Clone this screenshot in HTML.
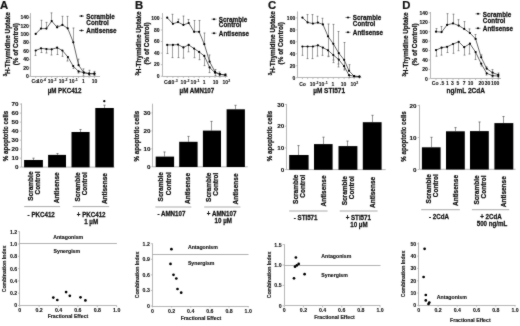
<!DOCTYPE html>
<html><head><meta charset="utf-8"><style>
html,body{margin:0;padding:0;background:#fff;}
svg{display:block;font-family:"Liberation Sans", sans-serif;will-change:transform;}
</style></head><body>
<svg width="520" height="326" viewBox="0 0 520 326">
<defs><filter id="bl" x="0" y="0" width="520" height="326" filterUnits="userSpaceOnUse" color-interpolation-filters="sRGB"><feConvolveMatrix order="3" kernelMatrix="0.0250 0.0562 0.0250 0.0562 0.6750 0.0562 0.0250 0.0562 0.0250" divisor="1" edgeMode="duplicate" preserveAlpha="false"/></filter></defs>
<rect width="520" height="326" fill="#fff"/>
<g filter="url(#bl)">
<line x1="30.5" y1="13" x2="30.5" y2="76.5" stroke="#a4a4a4" stroke-width="0.8"/>
<line x1="30.5" y1="76.5" x2="100" y2="76.5" stroke="#a4a4a4" stroke-width="0.8"/>
<line x1="28.9" y1="76.3" x2="30.4" y2="76.3" stroke="#a4a4a4" stroke-width="0.7"/>
<text transform="translate(28.90 78.10)" font-size="5.0" text-anchor="end" font-weight="bold" fill="#111" stroke="#111" stroke-width="0.12">0</text>
<line x1="28.9" y1="67.88" x2="30.4" y2="67.88" stroke="#a4a4a4" stroke-width="0.7"/>
<text transform="translate(28.90 69.68)" font-size="5.0" text-anchor="end" font-weight="bold" fill="#111" stroke="#111" stroke-width="0.12">20</text>
<line x1="28.9" y1="59.459999999999994" x2="30.4" y2="59.459999999999994" stroke="#a4a4a4" stroke-width="0.7"/>
<text transform="translate(28.90 61.26)" font-size="5.0" text-anchor="end" font-weight="bold" fill="#111" stroke="#111" stroke-width="0.12">40</text>
<line x1="28.9" y1="51.04" x2="30.4" y2="51.04" stroke="#a4a4a4" stroke-width="0.7"/>
<text transform="translate(28.90 52.84)" font-size="5.0" text-anchor="end" font-weight="bold" fill="#111" stroke="#111" stroke-width="0.12">60</text>
<line x1="28.9" y1="42.62" x2="30.4" y2="42.62" stroke="#a4a4a4" stroke-width="0.7"/>
<text transform="translate(28.90 44.42)" font-size="5.0" text-anchor="end" font-weight="bold" fill="#111" stroke="#111" stroke-width="0.12">80</text>
<line x1="28.9" y1="34.199999999999996" x2="30.4" y2="34.199999999999996" stroke="#a4a4a4" stroke-width="0.7"/>
<text transform="translate(28.90 36.00)" font-size="5.0" text-anchor="end" font-weight="bold" fill="#111" stroke="#111" stroke-width="0.12">100</text>
<line x1="28.9" y1="25.78" x2="30.4" y2="25.78" stroke="#a4a4a4" stroke-width="0.7"/>
<text transform="translate(28.90 27.58)" font-size="5.0" text-anchor="end" font-weight="bold" fill="#111" stroke="#111" stroke-width="0.12">120</text>
<line x1="28.9" y1="17.36" x2="30.4" y2="17.36" stroke="#a4a4a4" stroke-width="0.7"/>
<text transform="translate(28.90 19.16)" font-size="5.0" text-anchor="end" font-weight="bold" fill="#111" stroke="#111" stroke-width="0.12">140</text>
<line x1="35.7" y1="76.4" x2="35.7" y2="77.9" stroke="#a4a4a4" stroke-width="0.7"/>
<line x1="41" y1="76.4" x2="41" y2="77.9" stroke="#a4a4a4" stroke-width="0.7"/>
<line x1="46.4" y1="76.4" x2="46.4" y2="77.9" stroke="#a4a4a4" stroke-width="0.7"/>
<line x1="51.7" y1="76.4" x2="51.7" y2="77.9" stroke="#a4a4a4" stroke-width="0.7"/>
<line x1="57.1" y1="76.4" x2="57.1" y2="77.9" stroke="#a4a4a4" stroke-width="0.7"/>
<line x1="62.4" y1="76.4" x2="62.4" y2="77.9" stroke="#a4a4a4" stroke-width="0.7"/>
<line x1="67.7" y1="76.4" x2="67.7" y2="77.9" stroke="#a4a4a4" stroke-width="0.7"/>
<line x1="73.3" y1="76.4" x2="73.3" y2="77.9" stroke="#a4a4a4" stroke-width="0.7"/>
<line x1="78.6" y1="76.4" x2="78.6" y2="77.9" stroke="#a4a4a4" stroke-width="0.7"/>
<line x1="83.8" y1="76.4" x2="83.8" y2="77.9" stroke="#a4a4a4" stroke-width="0.7"/>
<line x1="89.1" y1="76.4" x2="89.1" y2="77.9" stroke="#a4a4a4" stroke-width="0.7"/>
<line x1="94.4" y1="76.4" x2="94.4" y2="77.9" stroke="#a4a4a4" stroke-width="0.7"/>
<line x1="41.5" y1="20.3" x2="41.5" y2="28.6" stroke="#8c8c8c" stroke-width="0.8"/>
<line x1="40.6" y1="20.3" x2="42.4" y2="20.3" stroke="#666" stroke-width="0.8"/>
<line x1="46.5" y1="22.4" x2="46.5" y2="28.6" stroke="#8c8c8c" stroke-width="0.8"/>
<line x1="45.6" y1="22.4" x2="47.4" y2="22.4" stroke="#666" stroke-width="0.8"/>
<line x1="51.5" y1="12.9" x2="51.5" y2="21.1" stroke="#8c8c8c" stroke-width="0.8"/>
<line x1="50.6" y1="12.9" x2="52.4" y2="12.9" stroke="#666" stroke-width="0.8"/>
<line x1="57.5" y1="25.5" x2="57.5" y2="27.3" stroke="#8c8c8c" stroke-width="0.8"/>
<line x1="56.6" y1="25.5" x2="58.4" y2="25.5" stroke="#666" stroke-width="0.8"/>
<line x1="62.5" y1="16.3" x2="62.5" y2="24.9" stroke="#8c8c8c" stroke-width="0.8"/>
<line x1="61.6" y1="16.3" x2="63.4" y2="16.3" stroke="#666" stroke-width="0.8"/>
<line x1="67.5" y1="16.4" x2="67.5" y2="28.3" stroke="#8c8c8c" stroke-width="0.8"/>
<line x1="66.6" y1="16.4" x2="68.4" y2="16.4" stroke="#666" stroke-width="0.8"/>
<line x1="73.5" y1="28" x2="73.5" y2="42.3" stroke="#8c8c8c" stroke-width="0.8"/>
<line x1="72.6" y1="28" x2="74.4" y2="28" stroke="#666" stroke-width="0.8"/>
<line x1="78.5" y1="59.2" x2="78.5" y2="65.2" stroke="#8c8c8c" stroke-width="0.8"/>
<line x1="77.6" y1="59.2" x2="79.4" y2="59.2" stroke="#666" stroke-width="0.8"/>
<line x1="83.5" y1="68.9" x2="83.5" y2="72.6" stroke="#8c8c8c" stroke-width="0.8"/>
<line x1="82.6" y1="68.9" x2="84.4" y2="68.9" stroke="#666" stroke-width="0.8"/>
<line x1="89.5" y1="70.3" x2="89.5" y2="73.7" stroke="#8c8c8c" stroke-width="0.8"/>
<line x1="88.6" y1="70.3" x2="90.4" y2="70.3" stroke="#666" stroke-width="0.8"/>
<line x1="94.5" y1="71.4" x2="94.5" y2="73.7" stroke="#8c8c8c" stroke-width="0.8"/>
<line x1="93.6" y1="71.4" x2="95.4" y2="71.4" stroke="#666" stroke-width="0.8"/>
<line x1="35.5" y1="50.5" x2="35.5" y2="55.4" stroke="#8c8c8c" stroke-width="0.8"/>
<line x1="34.6" y1="55.4" x2="36.4" y2="55.4" stroke="#666" stroke-width="0.8"/>
<line x1="41.5" y1="48.3" x2="41.5" y2="52.5" stroke="#8c8c8c" stroke-width="0.8"/>
<line x1="40.6" y1="52.5" x2="42.4" y2="52.5" stroke="#666" stroke-width="0.8"/>
<line x1="46.5" y1="49" x2="46.5" y2="53" stroke="#8c8c8c" stroke-width="0.8"/>
<line x1="45.6" y1="53" x2="47.4" y2="53" stroke="#666" stroke-width="0.8"/>
<line x1="51.5" y1="49.3" x2="51.5" y2="55" stroke="#8c8c8c" stroke-width="0.8"/>
<line x1="50.6" y1="55" x2="52.4" y2="55" stroke="#666" stroke-width="0.8"/>
<line x1="57.5" y1="47.7" x2="57.5" y2="54.5" stroke="#8c8c8c" stroke-width="0.8"/>
<line x1="56.6" y1="54.5" x2="58.4" y2="54.5" stroke="#666" stroke-width="0.8"/>
<line x1="62.5" y1="50.5" x2="62.5" y2="56.3" stroke="#8c8c8c" stroke-width="0.8"/>
<line x1="61.6" y1="56.3" x2="63.4" y2="56.3" stroke="#666" stroke-width="0.8"/>
<line x1="67.5" y1="57" x2="67.5" y2="61" stroke="#8c8c8c" stroke-width="0.8"/>
<line x1="66.6" y1="61" x2="68.4" y2="61" stroke="#666" stroke-width="0.8"/>
<line x1="73.5" y1="66.1" x2="73.5" y2="68.4" stroke="#8c8c8c" stroke-width="0.8"/>
<line x1="72.6" y1="68.4" x2="74.4" y2="68.4" stroke="#666" stroke-width="0.8"/>
<line x1="78.5" y1="71.4" x2="78.5" y2="73" stroke="#8c8c8c" stroke-width="0.8"/>
<line x1="77.6" y1="73" x2="79.4" y2="73" stroke="#666" stroke-width="0.8"/>
<line x1="83.5" y1="72.6" x2="83.5" y2="75.8" stroke="#8c8c8c" stroke-width="0.8"/>
<line x1="82.6" y1="75.8" x2="84.4" y2="75.8" stroke="#666" stroke-width="0.8"/>
<line x1="89.5" y1="73.7" x2="89.5" y2="75.5" stroke="#8c8c8c" stroke-width="0.8"/>
<line x1="88.6" y1="75.5" x2="90.4" y2="75.5" stroke="#666" stroke-width="0.8"/>
<line x1="94.5" y1="73.7" x2="94.5" y2="75.5" stroke="#8c8c8c" stroke-width="0.8"/>
<line x1="93.6" y1="75.5" x2="95.4" y2="75.5" stroke="#666" stroke-width="0.8"/>
<polyline points="35.7,33.9 41,28.6 46.4,28.6 51.7,21.1 57.1,27.3 62.4,24.9 67.7,28.3 73.3,42.3 78.6,65.2 83.8,72.6 89.1,73.7 94.4,73.7" fill="none" stroke="#222" stroke-width="0.7"/>
<circle cx="35.7" cy="33.9" r="1.1" fill="#000"/>
<circle cx="41" cy="28.6" r="1.1" fill="#000"/>
<circle cx="46.4" cy="28.6" r="1.1" fill="#000"/>
<circle cx="51.7" cy="21.1" r="1.1" fill="#000"/>
<circle cx="57.1" cy="27.3" r="1.1" fill="#000"/>
<circle cx="62.4" cy="24.9" r="1.1" fill="#000"/>
<circle cx="67.7" cy="28.3" r="1.1" fill="#000"/>
<circle cx="73.3" cy="42.3" r="1.1" fill="#000"/>
<circle cx="78.6" cy="65.2" r="1.1" fill="#000"/>
<circle cx="83.8" cy="72.6" r="1.1" fill="#000"/>
<circle cx="89.1" cy="73.7" r="1.1" fill="#000"/>
<circle cx="94.4" cy="73.7" r="1.1" fill="#000"/>
<polyline points="35.7,50.5 41,48.3 46.4,49 51.7,49.3 57.1,47.7 62.4,50.5 67.9,57 73.2,66.1 78.6,71.4 83.8,72.6 89.1,73.7 94.4,73.7" fill="none" stroke="#222" stroke-width="0.7"/>
<circle cx="35.7" cy="50.5" r="1.1" fill="#000"/>
<circle cx="41" cy="48.3" r="1.1" fill="#000"/>
<circle cx="46.4" cy="49" r="1.1" fill="#000"/>
<circle cx="51.7" cy="49.3" r="1.1" fill="#000"/>
<circle cx="57.1" cy="47.7" r="1.1" fill="#000"/>
<circle cx="62.4" cy="50.5" r="1.1" fill="#000"/>
<circle cx="67.9" cy="57" r="1.1" fill="#000"/>
<circle cx="73.2" cy="66.1" r="1.1" fill="#000"/>
<circle cx="78.6" cy="71.4" r="1.1" fill="#000"/>
<circle cx="83.8" cy="72.6" r="1.1" fill="#000"/>
<circle cx="89.1" cy="73.7" r="1.1" fill="#000"/>
<circle cx="94.4" cy="73.7" r="1.1" fill="#000"/>
<line x1="79.0" y1="16.1" x2="84.0" y2="16.1" stroke="#222" stroke-width="0.6"/>
<circle cx="81.5" cy="16.1" r="1.0" fill="#000"/>
<line x1="79.0" y1="30.5" x2="84.0" y2="30.5" stroke="#222" stroke-width="0.6"/>
<circle cx="81.5" cy="30.5" r="1.0" fill="#000"/>
<text transform="translate(86.30 18.80) scale(1 1.18)" font-size="6.35" text-anchor="start" font-weight="bold" fill="#111" stroke="#111" stroke-width="0.22">Scramble</text>
<text transform="translate(86.30 24.90) scale(1 1.18)" font-size="6.35" text-anchor="start" font-weight="bold" fill="#111" stroke="#111" stroke-width="0.22">Control</text>
<text transform="translate(86.30 33.20) scale(1 1.18)" font-size="6.35" text-anchor="start" font-weight="bold" fill="#111" stroke="#111" stroke-width="0.22">Antisense</text>
<text transform="translate(31.60 82.80)" font-size="5.0" text-anchor="start" font-weight="bold" fill="#111" stroke="#111" stroke-width="0.08">Co</text>
<text transform="translate(37.10 82.80)" font-size="5.0" text-anchor="start" font-weight="bold" fill="#111" stroke="#111" stroke-width="0.08">10<tspan font-size="3.5" dx="0.2" dy="-2.2">-4</tspan></text>
<text transform="translate(47.70 82.80)" font-size="5.0" text-anchor="start" font-weight="bold" fill="#111" stroke="#111" stroke-width="0.08">10<tspan font-size="3.5" dx="0.2" dy="-2.2">-3</tspan></text>
<text transform="translate(58.70 82.80)" font-size="5.0" text-anchor="start" font-weight="bold" fill="#111" stroke="#111" stroke-width="0.08">10<tspan font-size="3.5" dx="0.2" dy="-2.2">-2</tspan></text>
<text transform="translate(68.90 82.80)" font-size="5.0" text-anchor="start" font-weight="bold" fill="#111" stroke="#111" stroke-width="0.08">10<tspan font-size="3.5" dx="0.2" dy="-2.2">-1</tspan></text>
<text transform="translate(83.50 82.80)" font-size="5.0" text-anchor="middle" font-weight="bold" fill="#111" stroke="#111" stroke-width="0.08">1</text>
<text transform="translate(94.50 82.80)" font-size="5.0" text-anchor="middle" font-weight="bold" fill="#111" stroke="#111" stroke-width="0.08">10</text>
<text transform="translate(64.60 92.93) scale(1 1.18)" font-size="6.2" text-anchor="middle" font-weight="bold" fill="#111" stroke="#111" stroke-width="0.22">µM PKC412</text>
<text transform="translate(9.52 44.20) rotate(-90) scale(1 1.18)" font-size="6.4" text-anchor="middle" font-weight="bold" fill="#111" stroke="#111" stroke-width="0.22"><tspan font-size="4.2" dy="-2.2">3</tspan><tspan dy="2.2">H-Thymidine Uptake</tspan></text>
<text transform="translate(17.52 44.20) rotate(-90) scale(1 1.18)" font-size="6.4" text-anchor="middle" font-weight="bold" fill="#111" stroke="#111" stroke-width="0.22">(% of Control)</text>
<line x1="162.5" y1="13" x2="162.5" y2="76.5" stroke="#a4a4a4" stroke-width="0.8"/>
<line x1="162.5" y1="76.5" x2="227.5" y2="76.5" stroke="#a4a4a4" stroke-width="0.8"/>
<line x1="160.9" y1="76.2" x2="162.4" y2="76.2" stroke="#a4a4a4" stroke-width="0.7"/>
<text transform="translate(159.60 78.00)" font-size="5.0" text-anchor="end" font-weight="bold" fill="#111" stroke="#111" stroke-width="0.12">0</text>
<line x1="160.9" y1="64.64" x2="162.4" y2="64.64" stroke="#a4a4a4" stroke-width="0.7"/>
<text transform="translate(159.60 66.44)" font-size="5.0" text-anchor="end" font-weight="bold" fill="#111" stroke="#111" stroke-width="0.12">20</text>
<line x1="160.9" y1="53.080000000000005" x2="162.4" y2="53.080000000000005" stroke="#a4a4a4" stroke-width="0.7"/>
<text transform="translate(159.60 54.88)" font-size="5.0" text-anchor="end" font-weight="bold" fill="#111" stroke="#111" stroke-width="0.12">40</text>
<line x1="160.9" y1="41.52" x2="162.4" y2="41.52" stroke="#a4a4a4" stroke-width="0.7"/>
<text transform="translate(159.60 43.32)" font-size="5.0" text-anchor="end" font-weight="bold" fill="#111" stroke="#111" stroke-width="0.12">60</text>
<line x1="160.9" y1="29.960000000000008" x2="162.4" y2="29.960000000000008" stroke="#a4a4a4" stroke-width="0.7"/>
<text transform="translate(159.60 31.76)" font-size="5.0" text-anchor="end" font-weight="bold" fill="#111" stroke="#111" stroke-width="0.12">80</text>
<line x1="160.9" y1="18.400000000000006" x2="162.4" y2="18.400000000000006" stroke="#a4a4a4" stroke-width="0.7"/>
<text transform="translate(159.60 20.20)" font-size="5.0" text-anchor="end" font-weight="bold" fill="#111" stroke="#111" stroke-width="0.12">100</text>
<line x1="167.2" y1="76.4" x2="167.2" y2="77.9" stroke="#a4a4a4" stroke-width="0.7"/>
<line x1="172.9" y1="76.4" x2="172.9" y2="77.9" stroke="#a4a4a4" stroke-width="0.7"/>
<line x1="178.0" y1="76.4" x2="178.0" y2="77.9" stroke="#a4a4a4" stroke-width="0.7"/>
<line x1="183.4" y1="76.4" x2="183.4" y2="77.9" stroke="#a4a4a4" stroke-width="0.7"/>
<line x1="188.7" y1="76.4" x2="188.7" y2="77.9" stroke="#a4a4a4" stroke-width="0.7"/>
<line x1="194.1" y1="76.4" x2="194.1" y2="77.9" stroke="#a4a4a4" stroke-width="0.7"/>
<line x1="199.1" y1="76.4" x2="199.1" y2="77.9" stroke="#a4a4a4" stroke-width="0.7"/>
<line x1="204.3" y1="76.4" x2="204.3" y2="77.9" stroke="#a4a4a4" stroke-width="0.7"/>
<line x1="209.6" y1="76.4" x2="209.6" y2="77.9" stroke="#a4a4a4" stroke-width="0.7"/>
<line x1="215.0" y1="76.4" x2="215.0" y2="77.9" stroke="#a4a4a4" stroke-width="0.7"/>
<line x1="219.9" y1="76.4" x2="219.9" y2="77.9" stroke="#a4a4a4" stroke-width="0.7"/>
<line x1="225.4" y1="76.4" x2="225.4" y2="77.9" stroke="#a4a4a4" stroke-width="0.7"/>
<line x1="172.5" y1="14.3" x2="172.5" y2="23.8" stroke="#8c8c8c" stroke-width="0.8"/>
<line x1="171.6" y1="14.3" x2="173.4" y2="14.3" stroke="#666" stroke-width="0.8"/>
<line x1="178.5" y1="19.2" x2="178.5" y2="22.1" stroke="#8c8c8c" stroke-width="0.8"/>
<line x1="177.6" y1="19.2" x2="179.4" y2="19.2" stroke="#666" stroke-width="0.8"/>
<line x1="183.5" y1="16.1" x2="183.5" y2="24.9" stroke="#8c8c8c" stroke-width="0.8"/>
<line x1="182.6" y1="16.1" x2="184.4" y2="16.1" stroke="#666" stroke-width="0.8"/>
<line x1="188.5" y1="19.5" x2="188.5" y2="23.0" stroke="#8c8c8c" stroke-width="0.8"/>
<line x1="187.6" y1="19.5" x2="189.4" y2="19.5" stroke="#666" stroke-width="0.8"/>
<line x1="194.5" y1="20.5" x2="194.5" y2="31.8" stroke="#8c8c8c" stroke-width="0.8"/>
<line x1="193.6" y1="20.5" x2="195.4" y2="20.5" stroke="#666" stroke-width="0.8"/>
<line x1="199.5" y1="20.5" x2="199.5" y2="31.8" stroke="#8c8c8c" stroke-width="0.8"/>
<line x1="198.6" y1="20.5" x2="200.4" y2="20.5" stroke="#666" stroke-width="0.8"/>
<line x1="204.5" y1="33.0" x2="204.5" y2="44.2" stroke="#8c8c8c" stroke-width="0.8"/>
<line x1="203.6" y1="33.0" x2="205.4" y2="33.0" stroke="#666" stroke-width="0.8"/>
<line x1="209.5" y1="55" x2="209.5" y2="61.7" stroke="#8c8c8c" stroke-width="0.8"/>
<line x1="208.6" y1="55" x2="210.4" y2="55" stroke="#666" stroke-width="0.8"/>
<line x1="215.5" y1="69.5" x2="215.5" y2="71.8" stroke="#8c8c8c" stroke-width="0.8"/>
<line x1="214.6" y1="69.5" x2="216.4" y2="69.5" stroke="#666" stroke-width="0.8"/>
<line x1="219.5" y1="72" x2="219.5" y2="74.2" stroke="#8c8c8c" stroke-width="0.8"/>
<line x1="218.6" y1="72" x2="220.4" y2="72" stroke="#666" stroke-width="0.8"/>
<line x1="225.5" y1="73.5" x2="225.5" y2="75" stroke="#8c8c8c" stroke-width="0.8"/>
<line x1="224.6" y1="73.5" x2="226.4" y2="73.5" stroke="#666" stroke-width="0.8"/>
<line x1="167.5" y1="44.9" x2="167.5" y2="53.5" stroke="#8c8c8c" stroke-width="0.8"/>
<line x1="166.6" y1="53.5" x2="168.4" y2="53.5" stroke="#666" stroke-width="0.8"/>
<line x1="172.5" y1="44.9" x2="172.5" y2="57.6" stroke="#8c8c8c" stroke-width="0.8"/>
<line x1="171.6" y1="57.6" x2="173.4" y2="57.6" stroke="#666" stroke-width="0.8"/>
<line x1="178.5" y1="44.6" x2="178.5" y2="57.6" stroke="#8c8c8c" stroke-width="0.8"/>
<line x1="177.6" y1="57.6" x2="179.4" y2="57.6" stroke="#666" stroke-width="0.8"/>
<line x1="183.5" y1="47.4" x2="183.5" y2="58.1" stroke="#8c8c8c" stroke-width="0.8"/>
<line x1="182.6" y1="58.1" x2="184.4" y2="58.1" stroke="#666" stroke-width="0.8"/>
<line x1="188.5" y1="44.9" x2="188.5" y2="51.8" stroke="#8c8c8c" stroke-width="0.8"/>
<line x1="187.6" y1="51.8" x2="189.4" y2="51.8" stroke="#666" stroke-width="0.8"/>
<line x1="194.5" y1="48.6" x2="194.5" y2="57.7" stroke="#8c8c8c" stroke-width="0.8"/>
<line x1="193.6" y1="57.7" x2="195.4" y2="57.7" stroke="#666" stroke-width="0.8"/>
<line x1="199.5" y1="51.9" x2="199.5" y2="59.7" stroke="#8c8c8c" stroke-width="0.8"/>
<line x1="198.6" y1="59.7" x2="200.4" y2="59.7" stroke="#666" stroke-width="0.8"/>
<line x1="204.5" y1="55.9" x2="204.5" y2="65.6" stroke="#8c8c8c" stroke-width="0.8"/>
<line x1="203.6" y1="65.6" x2="205.4" y2="65.6" stroke="#666" stroke-width="0.8"/>
<line x1="209.5" y1="67.4" x2="209.5" y2="72.6" stroke="#8c8c8c" stroke-width="0.8"/>
<line x1="208.6" y1="72.6" x2="210.4" y2="72.6" stroke="#666" stroke-width="0.8"/>
<line x1="215.5" y1="72.7" x2="215.5" y2="75.5" stroke="#8c8c8c" stroke-width="0.8"/>
<line x1="214.6" y1="75.5" x2="216.4" y2="75.5" stroke="#666" stroke-width="0.8"/>
<line x1="219.5" y1="74.4" x2="219.5" y2="76" stroke="#8c8c8c" stroke-width="0.8"/>
<line x1="218.6" y1="76" x2="220.4" y2="76" stroke="#666" stroke-width="0.8"/>
<line x1="225.5" y1="75" x2="225.5" y2="76" stroke="#8c8c8c" stroke-width="0.8"/>
<line x1="224.6" y1="76" x2="226.4" y2="76" stroke="#666" stroke-width="0.8"/>
<polyline points="167.2,17.7 172.9,23.8 178.0,22.1 183.4,24.9 188.7,23.0 194.1,31.8 199.1,31.8 204.3,44.2 209.6,61.7 215.0,71.8 219.9,74.2 225.4,75" fill="none" stroke="#222" stroke-width="0.7"/>
<circle cx="167.2" cy="17.7" r="1.1" fill="#000"/>
<circle cx="172.9" cy="23.8" r="1.1" fill="#000"/>
<circle cx="178.0" cy="22.1" r="1.1" fill="#000"/>
<circle cx="183.4" cy="24.9" r="1.1" fill="#000"/>
<circle cx="188.7" cy="23.0" r="1.1" fill="#000"/>
<circle cx="194.1" cy="31.8" r="1.1" fill="#000"/>
<circle cx="199.1" cy="31.8" r="1.1" fill="#000"/>
<circle cx="204.3" cy="44.2" r="1.1" fill="#000"/>
<circle cx="209.6" cy="61.7" r="1.1" fill="#000"/>
<circle cx="215.0" cy="71.8" r="1.1" fill="#000"/>
<circle cx="219.9" cy="74.2" r="1.1" fill="#000"/>
<circle cx="225.4" cy="75" r="1.1" fill="#000"/>
<polyline points="167.2,44.9 172.9,44.9 178.0,44.6 183.4,47.4 188.7,44.9 194.1,48.6 199.1,51.9 204.3,55.9 209.6,67.4 215.0,72.7 219.9,74.4 225.4,75" fill="none" stroke="#222" stroke-width="0.7"/>
<circle cx="167.2" cy="44.9" r="1.1" fill="#000"/>
<circle cx="172.9" cy="44.9" r="1.1" fill="#000"/>
<circle cx="178.0" cy="44.6" r="1.1" fill="#000"/>
<circle cx="183.4" cy="47.4" r="1.1" fill="#000"/>
<circle cx="188.7" cy="44.9" r="1.1" fill="#000"/>
<circle cx="194.1" cy="48.6" r="1.1" fill="#000"/>
<circle cx="199.1" cy="51.9" r="1.1" fill="#000"/>
<circle cx="204.3" cy="55.9" r="1.1" fill="#000"/>
<circle cx="209.6" cy="67.4" r="1.1" fill="#000"/>
<circle cx="215.0" cy="72.7" r="1.1" fill="#000"/>
<circle cx="219.9" cy="74.4" r="1.1" fill="#000"/>
<circle cx="225.4" cy="75" r="1.1" fill="#000"/>
<line x1="211.5" y1="19.2" x2="216.5" y2="19.2" stroke="#222" stroke-width="0.6"/>
<circle cx="214.0" cy="19.2" r="1.0" fill="#000"/>
<line x1="211.5" y1="33.2" x2="216.5" y2="33.2" stroke="#222" stroke-width="0.6"/>
<circle cx="214.0" cy="33.2" r="1.0" fill="#000"/>
<text transform="translate(218.80 21.90) scale(1 1.18)" font-size="6.35" text-anchor="start" font-weight="bold" fill="#111" stroke="#111" stroke-width="0.22">Scramble</text>
<text transform="translate(218.80 27.30) scale(1 1.18)" font-size="6.35" text-anchor="start" font-weight="bold" fill="#111" stroke="#111" stroke-width="0.22">Control</text>
<text transform="translate(218.80 35.90) scale(1 1.18)" font-size="6.35" text-anchor="start" font-weight="bold" fill="#111" stroke="#111" stroke-width="0.22">Antisense</text>
<text transform="translate(164.00 84.20)" font-size="5.0" text-anchor="start" font-weight="bold" fill="#111" stroke="#111" stroke-width="0.08">Co</text>
<text transform="translate(168.80 84.20)" font-size="5.0" text-anchor="start" font-weight="bold" fill="#111" stroke="#111" stroke-width="0.08">10<tspan font-size="3.5" dx="0.2" dy="-2.2">-3</tspan></text>
<text transform="translate(180.60 84.20)" font-size="5.0" text-anchor="start" font-weight="bold" fill="#111" stroke="#111" stroke-width="0.08">10<tspan font-size="3.5" dx="0.2" dy="-2.2">-2</tspan></text>
<text transform="translate(190.60 84.20)" font-size="5.0" text-anchor="start" font-weight="bold" fill="#111" stroke="#111" stroke-width="0.08">10<tspan font-size="3.5" dx="0.2" dy="-2.2">-1</tspan></text>
<text transform="translate(204.20 84.20)" font-size="5.0" text-anchor="middle" font-weight="bold" fill="#111" stroke="#111" stroke-width="0.08">1</text>
<text transform="translate(215.50 84.20)" font-size="5.0" text-anchor="middle" font-weight="bold" fill="#111" stroke="#111" stroke-width="0.08">10</text>
<text transform="translate(222.50 84.20)" font-size="5.0" text-anchor="start" font-weight="bold" fill="#111" stroke="#111" stroke-width="0.08">10<tspan font-size="3.5" dx="0.2" dy="-2.2">2</tspan></text>
<text transform="translate(196.90 92.93) scale(1 1.18)" font-size="6.2" text-anchor="middle" font-weight="bold" fill="#111" stroke="#111" stroke-width="0.22">µM AMN107</text>
<text transform="translate(141.12 43.50) rotate(-90) scale(1 1.18)" font-size="6.4" text-anchor="middle" font-weight="bold" fill="#111" stroke="#111" stroke-width="0.22"><tspan font-size="4.2" dy="-2.2">3</tspan><tspan dy="2.2">H-Thymidine Uptake</tspan></text>
<text transform="translate(149.12 43.50) rotate(-90) scale(1 1.18)" font-size="6.4" text-anchor="middle" font-weight="bold" fill="#111" stroke="#111" stroke-width="0.22">(% of Control)</text>
<line x1="297.5" y1="11.4" x2="297.5" y2="77.5" stroke="#a4a4a4" stroke-width="0.8"/>
<line x1="297.5" y1="77.5" x2="361.4" y2="77.5" stroke="#a4a4a4" stroke-width="0.8"/>
<line x1="296.1" y1="77.7" x2="297.6" y2="77.7" stroke="#a4a4a4" stroke-width="0.7"/>
<text transform="translate(295.20 79.50)" font-size="5.0" text-anchor="end" font-weight="bold" fill="#111" stroke="#111" stroke-width="0.12">0</text>
<line x1="296.1" y1="65.74000000000001" x2="297.6" y2="65.74000000000001" stroke="#a4a4a4" stroke-width="0.7"/>
<text transform="translate(295.20 67.54)" font-size="5.0" text-anchor="end" font-weight="bold" fill="#111" stroke="#111" stroke-width="0.12">20</text>
<line x1="296.1" y1="53.78" x2="297.6" y2="53.78" stroke="#a4a4a4" stroke-width="0.7"/>
<text transform="translate(295.20 55.58)" font-size="5.0" text-anchor="end" font-weight="bold" fill="#111" stroke="#111" stroke-width="0.12">40</text>
<line x1="296.1" y1="41.82000000000001" x2="297.6" y2="41.82000000000001" stroke="#a4a4a4" stroke-width="0.7"/>
<text transform="translate(295.20 43.62)" font-size="5.0" text-anchor="end" font-weight="bold" fill="#111" stroke="#111" stroke-width="0.12">60</text>
<line x1="296.1" y1="29.860000000000007" x2="297.6" y2="29.860000000000007" stroke="#a4a4a4" stroke-width="0.7"/>
<text transform="translate(295.20 31.66)" font-size="5.0" text-anchor="end" font-weight="bold" fill="#111" stroke="#111" stroke-width="0.12">80</text>
<line x1="296.1" y1="17.900000000000006" x2="297.6" y2="17.900000000000006" stroke="#a4a4a4" stroke-width="0.7"/>
<text transform="translate(295.20 19.70)" font-size="5.0" text-anchor="end" font-weight="bold" fill="#111" stroke="#111" stroke-width="0.12">100</text>
<line x1="302.4" y1="77.6" x2="302.4" y2="79.1" stroke="#a4a4a4" stroke-width="0.7"/>
<line x1="307.6" y1="77.6" x2="307.6" y2="79.1" stroke="#a4a4a4" stroke-width="0.7"/>
<line x1="312.9" y1="77.6" x2="312.9" y2="79.1" stroke="#a4a4a4" stroke-width="0.7"/>
<line x1="317.9" y1="77.6" x2="317.9" y2="79.1" stroke="#a4a4a4" stroke-width="0.7"/>
<line x1="322.9" y1="77.6" x2="322.9" y2="79.1" stroke="#a4a4a4" stroke-width="0.7"/>
<line x1="328.0" y1="77.6" x2="328.0" y2="79.1" stroke="#a4a4a4" stroke-width="0.7"/>
<line x1="333.3" y1="77.6" x2="333.3" y2="79.1" stroke="#a4a4a4" stroke-width="0.7"/>
<line x1="338.8" y1="77.6" x2="338.8" y2="79.1" stroke="#a4a4a4" stroke-width="0.7"/>
<line x1="344.1" y1="77.6" x2="344.1" y2="79.1" stroke="#a4a4a4" stroke-width="0.7"/>
<line x1="349.0" y1="77.6" x2="349.0" y2="79.1" stroke="#a4a4a4" stroke-width="0.7"/>
<line x1="354.1" y1="77.6" x2="354.1" y2="79.1" stroke="#a4a4a4" stroke-width="0.7"/>
<line x1="359.4" y1="77.6" x2="359.4" y2="79.1" stroke="#a4a4a4" stroke-width="0.7"/>
<line x1="307.5" y1="14.6" x2="307.5" y2="22.4" stroke="#8c8c8c" stroke-width="0.8"/>
<line x1="306.6" y1="14.6" x2="308.4" y2="14.6" stroke="#666" stroke-width="0.8"/>
<line x1="312.5" y1="14.6" x2="312.5" y2="23.6" stroke="#8c8c8c" stroke-width="0.8"/>
<line x1="311.6" y1="14.6" x2="313.4" y2="14.6" stroke="#666" stroke-width="0.8"/>
<line x1="317.5" y1="16.3" x2="317.5" y2="22.6" stroke="#8c8c8c" stroke-width="0.8"/>
<line x1="316.6" y1="16.3" x2="318.4" y2="16.3" stroke="#666" stroke-width="0.8"/>
<line x1="322.5" y1="18.3" x2="322.5" y2="24.4" stroke="#8c8c8c" stroke-width="0.8"/>
<line x1="321.6" y1="18.3" x2="323.4" y2="18.3" stroke="#666" stroke-width="0.8"/>
<line x1="328.5" y1="24.0" x2="328.5" y2="36.3" stroke="#8c8c8c" stroke-width="0.8"/>
<line x1="327.6" y1="24.0" x2="329.4" y2="24.0" stroke="#666" stroke-width="0.8"/>
<line x1="328.5" y1="36.3" x2="328.5" y2="56.0" stroke="#8c8c8c" stroke-width="0.8"/>
<line x1="327.6" y1="56.0" x2="329.4" y2="56.0" stroke="#666" stroke-width="0.8"/>
<line x1="333.5" y1="24.4" x2="333.5" y2="43.8" stroke="#8c8c8c" stroke-width="0.8"/>
<line x1="332.6" y1="24.4" x2="334.4" y2="24.4" stroke="#666" stroke-width="0.8"/>
<line x1="333.5" y1="43.8" x2="333.5" y2="62.6" stroke="#8c8c8c" stroke-width="0.8"/>
<line x1="332.6" y1="62.6" x2="334.4" y2="62.6" stroke="#666" stroke-width="0.8"/>
<line x1="338.5" y1="31.5" x2="338.5" y2="53.2" stroke="#8c8c8c" stroke-width="0.8"/>
<line x1="337.6" y1="31.5" x2="339.4" y2="31.5" stroke="#666" stroke-width="0.8"/>
<line x1="338.5" y1="53.2" x2="338.5" y2="66.9" stroke="#8c8c8c" stroke-width="0.8"/>
<line x1="337.6" y1="66.9" x2="339.4" y2="66.9" stroke="#666" stroke-width="0.8"/>
<line x1="344.5" y1="42.5" x2="344.5" y2="59.8" stroke="#8c8c8c" stroke-width="0.8"/>
<line x1="343.6" y1="42.5" x2="345.4" y2="42.5" stroke="#666" stroke-width="0.8"/>
<line x1="344.5" y1="59.8" x2="344.5" y2="70.0" stroke="#8c8c8c" stroke-width="0.8"/>
<line x1="343.6" y1="70.0" x2="345.4" y2="70.0" stroke="#666" stroke-width="0.8"/>
<line x1="349.5" y1="64.7" x2="349.5" y2="70.8" stroke="#8c8c8c" stroke-width="0.8"/>
<line x1="348.6" y1="64.7" x2="350.4" y2="64.7" stroke="#666" stroke-width="0.8"/>
<line x1="302.5" y1="46.5" x2="302.5" y2="55.3" stroke="#8c8c8c" stroke-width="0.8"/>
<line x1="301.6" y1="55.3" x2="303.4" y2="55.3" stroke="#666" stroke-width="0.8"/>
<line x1="307.5" y1="46.5" x2="307.5" y2="58.6" stroke="#8c8c8c" stroke-width="0.8"/>
<line x1="306.6" y1="58.6" x2="308.4" y2="58.6" stroke="#666" stroke-width="0.8"/>
<line x1="312.5" y1="46.5" x2="312.5" y2="58.6" stroke="#8c8c8c" stroke-width="0.8"/>
<line x1="311.6" y1="58.6" x2="313.4" y2="58.6" stroke="#666" stroke-width="0.8"/>
<line x1="317.5" y1="45.3" x2="317.5" y2="56.1" stroke="#8c8c8c" stroke-width="0.8"/>
<line x1="316.6" y1="56.1" x2="318.4" y2="56.1" stroke="#666" stroke-width="0.8"/>
<line x1="322.5" y1="47.6" x2="322.5" y2="55.3" stroke="#8c8c8c" stroke-width="0.8"/>
<line x1="321.6" y1="55.3" x2="323.4" y2="55.3" stroke="#666" stroke-width="0.8"/>
<line x1="328.5" y1="50.3" x2="328.5" y2="56.6" stroke="#8c8c8c" stroke-width="0.8"/>
<line x1="327.6" y1="56.6" x2="329.4" y2="56.6" stroke="#666" stroke-width="0.8"/>
<line x1="333.5" y1="55" x2="333.5" y2="60" stroke="#8c8c8c" stroke-width="0.8"/>
<line x1="332.6" y1="60" x2="334.4" y2="60" stroke="#666" stroke-width="0.8"/>
<line x1="338.5" y1="59.6" x2="338.5" y2="64" stroke="#8c8c8c" stroke-width="0.8"/>
<line x1="337.6" y1="64" x2="339.4" y2="64" stroke="#666" stroke-width="0.8"/>
<line x1="344.5" y1="66.2" x2="344.5" y2="69" stroke="#8c8c8c" stroke-width="0.8"/>
<line x1="343.6" y1="69" x2="345.4" y2="69" stroke="#666" stroke-width="0.8"/>
<line x1="349.5" y1="75.2" x2="349.5" y2="77.3" stroke="#8c8c8c" stroke-width="0.8"/>
<line x1="348.6" y1="77.3" x2="350.4" y2="77.3" stroke="#666" stroke-width="0.8"/>
<polyline points="302.4,17.6 307.6,22.4 312.9,23.6 317.9,22.6 322.9,24.4 328.0,36.3 333.3,43.8 338.8,53.2 344.1,59.8 349.0,70.8 354.1,76.2 359.4,76.6" fill="none" stroke="#222" stroke-width="0.7"/>
<circle cx="302.4" cy="17.6" r="1.1" fill="#000"/>
<circle cx="307.6" cy="22.4" r="1.1" fill="#000"/>
<circle cx="312.9" cy="23.6" r="1.1" fill="#000"/>
<circle cx="317.9" cy="22.6" r="1.1" fill="#000"/>
<circle cx="322.9" cy="24.4" r="1.1" fill="#000"/>
<circle cx="328.0" cy="36.3" r="1.1" fill="#000"/>
<circle cx="333.3" cy="43.8" r="1.1" fill="#000"/>
<circle cx="338.8" cy="53.2" r="1.1" fill="#000"/>
<circle cx="344.1" cy="59.8" r="1.1" fill="#000"/>
<circle cx="349.0" cy="70.8" r="1.1" fill="#000"/>
<circle cx="354.1" cy="76.2" r="1.1" fill="#000"/>
<circle cx="359.4" cy="76.6" r="1.1" fill="#000"/>
<polyline points="302.4,46.5 307.6,46.5 312.9,46.5 317.9,45.3 322.9,47.6 328.0,50.3 333.3,55 338.8,59.6 344.1,66.2 349.0,75.2 354.1,76.2 359.4,76.6" fill="none" stroke="#222" stroke-width="0.7"/>
<circle cx="302.4" cy="46.5" r="1.1" fill="#000"/>
<circle cx="307.6" cy="46.5" r="1.1" fill="#000"/>
<circle cx="312.9" cy="46.5" r="1.1" fill="#000"/>
<circle cx="317.9" cy="45.3" r="1.1" fill="#000"/>
<circle cx="322.9" cy="47.6" r="1.1" fill="#000"/>
<circle cx="328.0" cy="50.3" r="1.1" fill="#000"/>
<circle cx="333.3" cy="55" r="1.1" fill="#000"/>
<circle cx="338.8" cy="59.6" r="1.1" fill="#000"/>
<circle cx="344.1" cy="66.2" r="1.1" fill="#000"/>
<circle cx="349.0" cy="75.2" r="1.1" fill="#000"/>
<circle cx="354.1" cy="76.2" r="1.1" fill="#000"/>
<circle cx="359.4" cy="76.6" r="1.1" fill="#000"/>
<line x1="345.5" y1="17.5" x2="350.5" y2="17.5" stroke="#222" stroke-width="0.6"/>
<circle cx="348.0" cy="17.5" r="1.0" fill="#000"/>
<line x1="345.5" y1="32.3" x2="350.5" y2="32.3" stroke="#222" stroke-width="0.6"/>
<circle cx="348.0" cy="32.3" r="1.0" fill="#000"/>
<text transform="translate(352.80 20.20) scale(1 1.18)" font-size="6.35" text-anchor="start" font-weight="bold" fill="#111" stroke="#111" stroke-width="0.22">Scramble</text>
<text transform="translate(352.80 26.10) scale(1 1.18)" font-size="6.35" text-anchor="start" font-weight="bold" fill="#111" stroke="#111" stroke-width="0.22">Control</text>
<text transform="translate(352.80 35.00) scale(1 1.18)" font-size="6.35" text-anchor="start" font-weight="bold" fill="#111" stroke="#111" stroke-width="0.22">Antisense</text>
<text transform="translate(302.50 85.70)" font-size="5.0" text-anchor="middle" font-weight="bold" fill="#111" stroke="#111" stroke-width="0.08">Co</text>
<text transform="translate(309.70 85.70)" font-size="5.0" text-anchor="start" font-weight="bold" fill="#111" stroke="#111" stroke-width="0.08">10<tspan font-size="3.5" dx="0.2" dy="-2.2">-2</tspan></text>
<text transform="translate(318.80 85.70)" font-size="5.0" text-anchor="start" font-weight="bold" fill="#111" stroke="#111" stroke-width="0.08">10<tspan font-size="3.5" dx="0.2" dy="-2.2">-1</tspan></text>
<text transform="translate(332.80 85.70)" font-size="5.0" text-anchor="middle" font-weight="bold" fill="#111" stroke="#111" stroke-width="0.08">1</text>
<text transform="translate(343.50 85.70)" font-size="5.0" text-anchor="middle" font-weight="bold" fill="#111" stroke="#111" stroke-width="0.08">10</text>
<text transform="translate(350.50 85.70)" font-size="5.0" text-anchor="start" font-weight="bold" fill="#111" stroke="#111" stroke-width="0.08">10<tspan font-size="3.5" dx="0.2" dy="-2.2">2</tspan></text>
<text transform="translate(329.10 93.46) scale(1 1.18)" font-size="6.5" text-anchor="middle" font-weight="bold" fill="#111" stroke="#111" stroke-width="0.22">µM STI571</text>
<text transform="translate(274.52 43.30) rotate(-90) scale(1 1.18)" font-size="6.4" text-anchor="middle" font-weight="bold" fill="#111" stroke="#111" stroke-width="0.22"><tspan font-size="4.2" dy="-2.2">3</tspan><tspan dy="2.2">H-Thymidine Uptake</tspan></text>
<text transform="translate(282.92 43.30) rotate(-90) scale(1 1.18)" font-size="6.4" text-anchor="middle" font-weight="bold" fill="#111" stroke="#111" stroke-width="0.22">(% of Control)</text>
<line x1="430.5" y1="12" x2="430.5" y2="78.5" stroke="#a4a4a4" stroke-width="0.8"/>
<line x1="430.5" y1="78.5" x2="501" y2="78.5" stroke="#a4a4a4" stroke-width="0.8"/>
<line x1="428.6" y1="78.8" x2="430.1" y2="78.8" stroke="#a4a4a4" stroke-width="0.7"/>
<text transform="translate(427.80 80.60)" font-size="5.0" text-anchor="end" font-weight="bold" fill="#111" stroke="#111" stroke-width="0.12">0</text>
<line x1="428.6" y1="69.386" x2="430.1" y2="69.386" stroke="#a4a4a4" stroke-width="0.7"/>
<text transform="translate(427.80 71.19)" font-size="5.0" text-anchor="end" font-weight="bold" fill="#111" stroke="#111" stroke-width="0.12">20</text>
<line x1="428.6" y1="59.971999999999994" x2="430.1" y2="59.971999999999994" stroke="#a4a4a4" stroke-width="0.7"/>
<text transform="translate(427.80 61.77)" font-size="5.0" text-anchor="end" font-weight="bold" fill="#111" stroke="#111" stroke-width="0.12">40</text>
<line x1="428.6" y1="50.55799999999999" x2="430.1" y2="50.55799999999999" stroke="#a4a4a4" stroke-width="0.7"/>
<text transform="translate(427.80 52.36)" font-size="5.0" text-anchor="end" font-weight="bold" fill="#111" stroke="#111" stroke-width="0.12">60</text>
<line x1="428.6" y1="41.144" x2="430.1" y2="41.144" stroke="#a4a4a4" stroke-width="0.7"/>
<text transform="translate(427.80 42.94)" font-size="5.0" text-anchor="end" font-weight="bold" fill="#111" stroke="#111" stroke-width="0.12">80</text>
<line x1="428.6" y1="31.729999999999997" x2="430.1" y2="31.729999999999997" stroke="#a4a4a4" stroke-width="0.7"/>
<text transform="translate(427.80 33.53)" font-size="5.0" text-anchor="end" font-weight="bold" fill="#111" stroke="#111" stroke-width="0.12">100</text>
<line x1="428.6" y1="22.315999999999995" x2="430.1" y2="22.315999999999995" stroke="#a4a4a4" stroke-width="0.7"/>
<text transform="translate(427.80 24.12)" font-size="5.0" text-anchor="end" font-weight="bold" fill="#111" stroke="#111" stroke-width="0.12">120</text>
<line x1="428.6" y1="12.902000000000001" x2="430.1" y2="12.902000000000001" stroke="#a4a4a4" stroke-width="0.7"/>
<text transform="translate(427.80 14.70)" font-size="5.0" text-anchor="end" font-weight="bold" fill="#111" stroke="#111" stroke-width="0.12">140</text>
<line x1="436" y1="78.6" x2="436" y2="80.1" stroke="#a4a4a4" stroke-width="0.7"/>
<line x1="441.6" y1="78.6" x2="441.6" y2="80.1" stroke="#a4a4a4" stroke-width="0.7"/>
<line x1="447.1" y1="78.6" x2="447.1" y2="80.1" stroke="#a4a4a4" stroke-width="0.7"/>
<line x1="453" y1="78.6" x2="453" y2="80.1" stroke="#a4a4a4" stroke-width="0.7"/>
<line x1="458.7" y1="78.6" x2="458.7" y2="80.1" stroke="#a4a4a4" stroke-width="0.7"/>
<line x1="464.2" y1="78.6" x2="464.2" y2="80.1" stroke="#a4a4a4" stroke-width="0.7"/>
<line x1="469.9" y1="78.6" x2="469.9" y2="80.1" stroke="#a4a4a4" stroke-width="0.7"/>
<line x1="475.6" y1="78.6" x2="475.6" y2="80.1" stroke="#a4a4a4" stroke-width="0.7"/>
<line x1="481.2" y1="78.6" x2="481.2" y2="80.1" stroke="#a4a4a4" stroke-width="0.7"/>
<line x1="486.7" y1="78.6" x2="486.7" y2="80.1" stroke="#a4a4a4" stroke-width="0.7"/>
<line x1="492.6" y1="78.6" x2="492.6" y2="80.1" stroke="#a4a4a4" stroke-width="0.7"/>
<line x1="498.3" y1="78.6" x2="498.3" y2="80.1" stroke="#a4a4a4" stroke-width="0.7"/>
<line x1="436.5" y1="28.6" x2="436.5" y2="31.7" stroke="#8c8c8c" stroke-width="0.8"/>
<line x1="435.6" y1="28.6" x2="437.4" y2="28.6" stroke="#666" stroke-width="0.8"/>
<line x1="441.5" y1="26.5" x2="441.5" y2="32.1" stroke="#8c8c8c" stroke-width="0.8"/>
<line x1="440.6" y1="26.5" x2="442.4" y2="26.5" stroke="#666" stroke-width="0.8"/>
<line x1="447.5" y1="13.7" x2="447.5" y2="24.9" stroke="#8c8c8c" stroke-width="0.8"/>
<line x1="446.6" y1="13.7" x2="448.4" y2="13.7" stroke="#666" stroke-width="0.8"/>
<line x1="453.5" y1="14.2" x2="453.5" y2="23.4" stroke="#8c8c8c" stroke-width="0.8"/>
<line x1="452.6" y1="14.2" x2="454.4" y2="14.2" stroke="#666" stroke-width="0.8"/>
<line x1="458.5" y1="19.7" x2="458.5" y2="25.6" stroke="#8c8c8c" stroke-width="0.8"/>
<line x1="457.6" y1="19.7" x2="459.4" y2="19.7" stroke="#666" stroke-width="0.8"/>
<line x1="464.5" y1="21.6" x2="464.5" y2="28.9" stroke="#8c8c8c" stroke-width="0.8"/>
<line x1="463.6" y1="21.6" x2="465.4" y2="21.6" stroke="#666" stroke-width="0.8"/>
<line x1="469.5" y1="28.9" x2="469.5" y2="33" stroke="#8c8c8c" stroke-width="0.8"/>
<line x1="468.6" y1="28.9" x2="470.4" y2="28.9" stroke="#666" stroke-width="0.8"/>
<line x1="475.5" y1="34.5" x2="475.5" y2="38.9" stroke="#8c8c8c" stroke-width="0.8"/>
<line x1="474.6" y1="34.5" x2="476.4" y2="34.5" stroke="#666" stroke-width="0.8"/>
<line x1="481.5" y1="54.9" x2="481.5" y2="57.3" stroke="#8c8c8c" stroke-width="0.8"/>
<line x1="480.6" y1="54.9" x2="482.4" y2="54.9" stroke="#666" stroke-width="0.8"/>
<line x1="486.5" y1="66.8" x2="486.5" y2="68.7" stroke="#8c8c8c" stroke-width="0.8"/>
<line x1="485.6" y1="66.8" x2="487.4" y2="66.8" stroke="#666" stroke-width="0.8"/>
<line x1="492.5" y1="69.6" x2="492.5" y2="72.7" stroke="#8c8c8c" stroke-width="0.8"/>
<line x1="491.6" y1="69.6" x2="493.4" y2="69.6" stroke="#666" stroke-width="0.8"/>
<line x1="498.5" y1="73" x2="498.5" y2="74.8" stroke="#8c8c8c" stroke-width="0.8"/>
<line x1="497.6" y1="73" x2="499.4" y2="73" stroke="#666" stroke-width="0.8"/>
<line x1="436.5" y1="50.1" x2="436.5" y2="56.2" stroke="#8c8c8c" stroke-width="0.8"/>
<line x1="435.6" y1="56.2" x2="437.4" y2="56.2" stroke="#666" stroke-width="0.8"/>
<line x1="441.5" y1="47.7" x2="441.5" y2="55.1" stroke="#8c8c8c" stroke-width="0.8"/>
<line x1="440.6" y1="55.1" x2="442.4" y2="55.1" stroke="#666" stroke-width="0.8"/>
<line x1="447.5" y1="46.8" x2="447.5" y2="52.5" stroke="#8c8c8c" stroke-width="0.8"/>
<line x1="446.6" y1="52.5" x2="448.4" y2="52.5" stroke="#666" stroke-width="0.8"/>
<line x1="453.5" y1="44" x2="453.5" y2="53.3" stroke="#8c8c8c" stroke-width="0.8"/>
<line x1="452.6" y1="53.3" x2="454.4" y2="53.3" stroke="#666" stroke-width="0.8"/>
<line x1="458.5" y1="41.8" x2="458.5" y2="50.7" stroke="#8c8c8c" stroke-width="0.8"/>
<line x1="457.6" y1="50.7" x2="459.4" y2="50.7" stroke="#666" stroke-width="0.8"/>
<line x1="464.5" y1="47.2" x2="464.5" y2="55.1" stroke="#8c8c8c" stroke-width="0.8"/>
<line x1="463.6" y1="55.1" x2="465.4" y2="55.1" stroke="#666" stroke-width="0.8"/>
<line x1="469.5" y1="43.7" x2="469.5" y2="54" stroke="#8c8c8c" stroke-width="0.8"/>
<line x1="468.6" y1="54" x2="470.4" y2="54" stroke="#666" stroke-width="0.8"/>
<line x1="475.5" y1="52.1" x2="475.5" y2="59.5" stroke="#8c8c8c" stroke-width="0.8"/>
<line x1="474.6" y1="59.5" x2="476.4" y2="59.5" stroke="#666" stroke-width="0.8"/>
<line x1="481.5" y1="63.7" x2="481.5" y2="66" stroke="#8c8c8c" stroke-width="0.8"/>
<line x1="480.6" y1="66" x2="482.4" y2="66" stroke="#666" stroke-width="0.8"/>
<line x1="486.5" y1="73.3" x2="486.5" y2="75" stroke="#8c8c8c" stroke-width="0.8"/>
<line x1="485.6" y1="75" x2="487.4" y2="75" stroke="#666" stroke-width="0.8"/>
<line x1="492.5" y1="75.7" x2="492.5" y2="77" stroke="#8c8c8c" stroke-width="0.8"/>
<line x1="491.6" y1="77" x2="493.4" y2="77" stroke="#666" stroke-width="0.8"/>
<line x1="498.5" y1="76" x2="498.5" y2="78" stroke="#8c8c8c" stroke-width="0.8"/>
<line x1="497.6" y1="78" x2="499.4" y2="78" stroke="#666" stroke-width="0.8"/>
<polyline points="436,31.7 441.6,32.1 447.1,24.9 453,23.4 458.7,25.6 464.2,28.9 469.9,33 475.6,38.9 481.2,57.3 486.7,68.7 492.6,72.7 498.3,74.8" fill="none" stroke="#222" stroke-width="0.7"/>
<circle cx="436" cy="31.7" r="1.1" fill="#000"/>
<circle cx="441.6" cy="32.1" r="1.1" fill="#000"/>
<circle cx="447.1" cy="24.9" r="1.1" fill="#000"/>
<circle cx="453" cy="23.4" r="1.1" fill="#000"/>
<circle cx="458.7" cy="25.6" r="1.1" fill="#000"/>
<circle cx="464.2" cy="28.9" r="1.1" fill="#000"/>
<circle cx="469.9" cy="33" r="1.1" fill="#000"/>
<circle cx="475.6" cy="38.9" r="1.1" fill="#000"/>
<circle cx="481.2" cy="57.3" r="1.1" fill="#000"/>
<circle cx="486.7" cy="68.7" r="1.1" fill="#000"/>
<circle cx="492.6" cy="72.7" r="1.1" fill="#000"/>
<circle cx="498.3" cy="74.8" r="1.1" fill="#000"/>
<polyline points="436,50.1 441.6,47.7 447.1,46.8 453,44 458.7,41.8 464.2,47.2 469.9,43.7 475.6,52.1 481.2,63.7 486.7,73.3 492.6,75.7 498.3,76" fill="none" stroke="#222" stroke-width="0.7"/>
<circle cx="436" cy="50.1" r="1.1" fill="#000"/>
<circle cx="441.6" cy="47.7" r="1.1" fill="#000"/>
<circle cx="447.1" cy="46.8" r="1.1" fill="#000"/>
<circle cx="453" cy="44" r="1.1" fill="#000"/>
<circle cx="458.7" cy="41.8" r="1.1" fill="#000"/>
<circle cx="464.2" cy="47.2" r="1.1" fill="#000"/>
<circle cx="469.9" cy="43.7" r="1.1" fill="#000"/>
<circle cx="475.6" cy="52.1" r="1.1" fill="#000"/>
<circle cx="481.2" cy="63.7" r="1.1" fill="#000"/>
<circle cx="486.7" cy="73.3" r="1.1" fill="#000"/>
<circle cx="492.6" cy="75.7" r="1.1" fill="#000"/>
<circle cx="498.3" cy="76" r="1.1" fill="#000"/>
<line x1="475.5" y1="13.8" x2="480.5" y2="13.8" stroke="#222" stroke-width="0.6"/>
<circle cx="478" cy="13.8" r="1.0" fill="#000"/>
<line x1="475.5" y1="28.3" x2="480.5" y2="28.3" stroke="#222" stroke-width="0.6"/>
<circle cx="478" cy="28.3" r="1.0" fill="#000"/>
<text transform="translate(482.80 16.50) scale(1 1.18)" font-size="6.35" text-anchor="start" font-weight="bold" fill="#111" stroke="#111" stroke-width="0.22">Scramble</text>
<text transform="translate(482.80 22.60) scale(1 1.18)" font-size="6.35" text-anchor="start" font-weight="bold" fill="#111" stroke="#111" stroke-width="0.22">Control</text>
<text transform="translate(482.80 31.00) scale(1 1.18)" font-size="6.35" text-anchor="start" font-weight="bold" fill="#111" stroke="#111" stroke-width="0.22">Antisense</text>
<text transform="translate(435.10 85.40)" font-size="5.0" text-anchor="middle" font-weight="bold" fill="#111" stroke="#111" stroke-width="0.08">Co</text>
<text transform="translate(442.20 85.40)" font-size="5.0" text-anchor="middle" font-weight="bold" fill="#111" stroke="#111" stroke-width="0.08">.5</text>
<text transform="translate(447.40 85.40)" font-size="5.0" text-anchor="middle" font-weight="bold" fill="#111" stroke="#111" stroke-width="0.08">1</text>
<text transform="translate(452.50 85.40)" font-size="5.0" text-anchor="middle" font-weight="bold" fill="#111" stroke="#111" stroke-width="0.08">3</text>
<text transform="translate(458.00 85.40)" font-size="5.0" text-anchor="middle" font-weight="bold" fill="#111" stroke="#111" stroke-width="0.08">5</text>
<text transform="translate(464.20 85.40)" font-size="5.0" text-anchor="middle" font-weight="bold" fill="#111" stroke="#111" stroke-width="0.08">7</text>
<text transform="translate(470.50 85.40)" font-size="5.0" text-anchor="middle" font-weight="bold" fill="#111" stroke="#111" stroke-width="0.08">10</text>
<text transform="translate(481.20 85.40)" font-size="5.0" text-anchor="middle" font-weight="bold" fill="#111" stroke="#111" stroke-width="0.08">20</text>
<text transform="translate(487.60 85.40)" font-size="5.0" text-anchor="middle" font-weight="bold" fill="#111" stroke="#111" stroke-width="0.08">30</text>
<text transform="translate(495.20 85.40)" font-size="5.0" text-anchor="middle" font-weight="bold" fill="#111" stroke="#111" stroke-width="0.08">100</text>
<text transform="translate(465.80 93.48) scale(1 1.18)" font-size="6.55" text-anchor="middle" font-weight="bold" fill="#111" stroke="#111" stroke-width="0.22">ng/mL 2CdA</text>
<text transform="translate(408.42 44.50) rotate(-90) scale(1 1.18)" font-size="6.4" text-anchor="middle" font-weight="bold" fill="#111" stroke="#111" stroke-width="0.22"><tspan font-size="4.2" dy="-2.2">3</tspan><tspan dy="2.2">H-Thymidine Uptake</tspan></text>
<text transform="translate(416.92 44.50) rotate(-90) scale(1 1.18)" font-size="6.4" text-anchor="middle" font-weight="bold" fill="#111" stroke="#111" stroke-width="0.22">(% of Control)</text>
<text transform="translate(0.10 8.80)" font-size="11.3" text-anchor="start" font-weight="bold" fill="#111" stroke="#111" stroke-width="0.22">A</text>
<text transform="translate(135.00 8.80)" font-size="11.3" text-anchor="start" font-weight="bold" fill="#111" stroke="#111" stroke-width="0.22">B</text>
<text transform="translate(268.10 8.80)" font-size="11.3" text-anchor="start" font-weight="bold" fill="#111" stroke="#111" stroke-width="0.22">C</text>
<text transform="translate(402.30 8.80)" font-size="11.3" text-anchor="start" font-weight="bold" fill="#111" stroke="#111" stroke-width="0.22">D</text>
<line x1="21.5" y1="103.4" x2="21.5" y2="167.1" stroke="#a4a4a4" stroke-width="0.8"/>
<line x1="21.5" y1="167.1" x2="114.5" y2="167.1" stroke="#a4a4a4" stroke-width="0.8"/>
<line x1="33.5" y1="158.2" x2="33.5" y2="160" stroke="#8c8c8c" stroke-width="0.9"/>
<line x1="32.5" y1="158.2" x2="34.5" y2="158.2" stroke="#666" stroke-width="0.9"/>
<rect x="24.1" y="160" width="18.80" height="7.30" fill="#000"/>
<line x1="57.5" y1="153.6" x2="57.5" y2="154.9" stroke="#8c8c8c" stroke-width="0.9"/>
<line x1="56.5" y1="153.6" x2="58.5" y2="153.6" stroke="#666" stroke-width="0.9"/>
<rect x="48.1" y="154.9" width="17.90" height="12.40" fill="#000"/>
<line x1="80.5" y1="129.5" x2="80.5" y2="132" stroke="#8c8c8c" stroke-width="0.9"/>
<line x1="79.5" y1="129.5" x2="81.5" y2="129.5" stroke="#666" stroke-width="0.9"/>
<rect x="71.5" y="132" width="18.10" height="35.30" fill="#000"/>
<line x1="104.5" y1="105.2" x2="104.5" y2="108" stroke="#8c8c8c" stroke-width="0.9"/>
<line x1="103.5" y1="105.2" x2="105.5" y2="105.2" stroke="#666" stroke-width="0.9"/>
<rect x="95.3" y="108" width="18.50" height="59.30" fill="#000"/>
<line x1="19.9" y1="167.1" x2="21.4" y2="167.1" stroke="#a4a4a4" stroke-width="0.7"/>
<text transform="translate(18.60 169.21) scale(1 0.93)" font-size="6.3" text-anchor="end" font-weight="bold" fill="#111" stroke="#111" stroke-width="0.12">0</text>
<line x1="19.9" y1="158.1" x2="21.4" y2="158.1" stroke="#a4a4a4" stroke-width="0.7"/>
<text transform="translate(18.60 160.21) scale(1 0.93)" font-size="6.3" text-anchor="end" font-weight="bold" fill="#111" stroke="#111" stroke-width="0.12">10</text>
<line x1="19.9" y1="149.1" x2="21.4" y2="149.1" stroke="#a4a4a4" stroke-width="0.7"/>
<text transform="translate(18.60 151.21) scale(1 0.93)" font-size="6.3" text-anchor="end" font-weight="bold" fill="#111" stroke="#111" stroke-width="0.12">20</text>
<line x1="19.9" y1="140.1" x2="21.4" y2="140.1" stroke="#a4a4a4" stroke-width="0.7"/>
<text transform="translate(18.60 142.21) scale(1 0.93)" font-size="6.3" text-anchor="end" font-weight="bold" fill="#111" stroke="#111" stroke-width="0.12">30</text>
<line x1="19.9" y1="131.1" x2="21.4" y2="131.1" stroke="#a4a4a4" stroke-width="0.7"/>
<text transform="translate(18.60 133.21) scale(1 0.93)" font-size="6.3" text-anchor="end" font-weight="bold" fill="#111" stroke="#111" stroke-width="0.12">40</text>
<line x1="19.9" y1="122.1" x2="21.4" y2="122.1" stroke="#a4a4a4" stroke-width="0.7"/>
<text transform="translate(18.60 124.21) scale(1 0.93)" font-size="6.3" text-anchor="end" font-weight="bold" fill="#111" stroke="#111" stroke-width="0.12">50</text>
<line x1="19.9" y1="113.1" x2="21.4" y2="113.1" stroke="#a4a4a4" stroke-width="0.7"/>
<text transform="translate(18.60 115.21) scale(1 0.93)" font-size="6.3" text-anchor="end" font-weight="bold" fill="#111" stroke="#111" stroke-width="0.12">60</text>
<line x1="19.9" y1="104.1" x2="21.4" y2="104.1" stroke="#a4a4a4" stroke-width="0.7"/>
<text transform="translate(18.60 106.21) scale(1 0.93)" font-size="6.3" text-anchor="end" font-weight="bold" fill="#111" stroke="#111" stroke-width="0.12">70</text>
<text transform="translate(7.93 136.00) rotate(-90) scale(1 1.18)" font-size="6.2" text-anchor="middle" font-weight="bold" fill="#111" stroke="#111" stroke-width="0.22">% apoptotic cells</text>
<text transform="translate(32.51 171.50) rotate(-90) scale(1 1.18)" font-size="6.5" text-anchor="end" font-weight="bold" fill="#111" stroke="#111" stroke-width="0.22">Scramble</text>
<text transform="translate(39.66 171.50) rotate(-90) scale(1 1.18)" font-size="6.5" text-anchor="end" font-weight="bold" fill="#111" stroke="#111" stroke-width="0.22">Control</text>
<text transform="translate(59.06 172.30) rotate(-90) scale(1 1.18)" font-size="6.5" text-anchor="end" font-weight="bold" fill="#111" stroke="#111" stroke-width="0.22">Antisense</text>
<text transform="translate(79.96 172.30) rotate(-90) scale(1 1.18)" font-size="6.5" text-anchor="end" font-weight="bold" fill="#111" stroke="#111" stroke-width="0.22">Scramble</text>
<text transform="translate(87.16 172.30) rotate(-90) scale(1 1.18)" font-size="6.5" text-anchor="end" font-weight="bold" fill="#111" stroke="#111" stroke-width="0.22">Control</text>
<text transform="translate(106.76 173.10) rotate(-90) scale(1 1.18)" font-size="6.5" text-anchor="end" font-weight="bold" fill="#111" stroke="#111" stroke-width="0.22">Antisense</text>
<line x1="24.2" y1="206.6" x2="60.1" y2="206.6" stroke="#aaaaaa" stroke-width="1.0"/>
<line x1="72.7" y1="206.6" x2="109.2" y2="206.6" stroke="#aaaaaa" stroke-width="1.0"/>
<text transform="translate(41.20 217.03) scale(1 1.18)" font-size="6.2" text-anchor="middle" font-weight="bold" fill="#111" stroke="#111" stroke-width="0.22">- PKC412</text>
<text transform="translate(91.20 217.23) scale(1 1.18)" font-size="6.2" text-anchor="middle" font-weight="bold" fill="#111" stroke="#111" stroke-width="0.22">+ PKC412</text>
<text transform="translate(91.10 224.03) scale(1 1.18)" font-size="6.2" text-anchor="middle" font-weight="bold" fill="#111" stroke="#111" stroke-width="0.22">1 µM</text>
<circle cx="104.3" cy="101.2" r="1.15" fill="#000"/>
<line x1="152.5" y1="103.7" x2="152.5" y2="166.8" stroke="#a4a4a4" stroke-width="0.8"/>
<line x1="152.5" y1="166.8" x2="247.8" y2="166.8" stroke="#a4a4a4" stroke-width="0.8"/>
<line x1="164.5" y1="152" x2="164.5" y2="156.6" stroke="#8c8c8c" stroke-width="0.9"/>
<line x1="163.5" y1="152" x2="165.5" y2="152" stroke="#666" stroke-width="0.9"/>
<rect x="155.7" y="156.6" width="18.40" height="10.40" fill="#000"/>
<line x1="188.5" y1="136.4" x2="188.5" y2="141.8" stroke="#8c8c8c" stroke-width="0.9"/>
<line x1="187.5" y1="136.4" x2="189.5" y2="136.4" stroke="#666" stroke-width="0.9"/>
<rect x="179.2" y="141.8" width="18.40" height="25.20" fill="#000"/>
<line x1="211.5" y1="121.4" x2="211.5" y2="130.6" stroke="#8c8c8c" stroke-width="0.9"/>
<line x1="210.5" y1="121.4" x2="212.5" y2="121.4" stroke="#666" stroke-width="0.9"/>
<rect x="202.9" y="130.6" width="18.10" height="36.40" fill="#000"/>
<line x1="235.5" y1="105.3" x2="235.5" y2="109.3" stroke="#8c8c8c" stroke-width="0.9"/>
<line x1="234.5" y1="105.3" x2="236.5" y2="105.3" stroke="#666" stroke-width="0.9"/>
<rect x="226.6" y="109.3" width="18.30" height="57.70" fill="#000"/>
<line x1="151.5" y1="166.7" x2="153" y2="166.7" stroke="#a4a4a4" stroke-width="0.7"/>
<text transform="translate(150.40 168.81) scale(1 0.93)" font-size="6.3" text-anchor="end" font-weight="bold" fill="#111" stroke="#111" stroke-width="0.12">0</text>
<line x1="151.5" y1="148.76999999999998" x2="153" y2="148.76999999999998" stroke="#a4a4a4" stroke-width="0.7"/>
<text transform="translate(150.40 150.88) scale(1 0.93)" font-size="6.3" text-anchor="end" font-weight="bold" fill="#111" stroke="#111" stroke-width="0.12">10</text>
<line x1="151.5" y1="130.83999999999997" x2="153" y2="130.83999999999997" stroke="#a4a4a4" stroke-width="0.7"/>
<text transform="translate(150.40 132.95) scale(1 0.93)" font-size="6.3" text-anchor="end" font-weight="bold" fill="#111" stroke="#111" stroke-width="0.12">20</text>
<line x1="151.5" y1="112.91" x2="153" y2="112.91" stroke="#a4a4a4" stroke-width="0.7"/>
<text transform="translate(150.40 115.02) scale(1 0.93)" font-size="6.3" text-anchor="end" font-weight="bold" fill="#111" stroke="#111" stroke-width="0.12">30</text>
<text transform="translate(139.03 136.20) rotate(-90) scale(1 1.18)" font-size="6.2" text-anchor="middle" font-weight="bold" fill="#111" stroke="#111" stroke-width="0.22">% apoptotic cells</text>
<text transform="translate(163.16 172.20) rotate(-90) scale(1 1.18)" font-size="6.5" text-anchor="end" font-weight="bold" fill="#111" stroke="#111" stroke-width="0.22">Scramble</text>
<text transform="translate(170.56 172.20) rotate(-90) scale(1 1.18)" font-size="6.5" text-anchor="end" font-weight="bold" fill="#111" stroke="#111" stroke-width="0.22">Control</text>
<text transform="translate(190.26 173.00) rotate(-90) scale(1 1.18)" font-size="6.5" text-anchor="end" font-weight="bold" fill="#111" stroke="#111" stroke-width="0.22">Antisense</text>
<text transform="translate(211.16 172.70) rotate(-90) scale(1 1.18)" font-size="6.5" text-anchor="end" font-weight="bold" fill="#111" stroke="#111" stroke-width="0.22">Scramble</text>
<text transform="translate(218.26 172.70) rotate(-90) scale(1 1.18)" font-size="6.5" text-anchor="end" font-weight="bold" fill="#111" stroke="#111" stroke-width="0.22">Control</text>
<text transform="translate(237.86 173.50) rotate(-90) scale(1 1.18)" font-size="6.5" text-anchor="end" font-weight="bold" fill="#111" stroke="#111" stroke-width="0.22">Antisense</text>
<line x1="155.4" y1="207.0" x2="191.3" y2="207.0" stroke="#aaaaaa" stroke-width="1.0"/>
<line x1="204.2" y1="207.0" x2="240.4" y2="207.0" stroke="#aaaaaa" stroke-width="1.0"/>
<text transform="translate(171.40 215.83) scale(1 1.18)" font-size="6.2" text-anchor="middle" font-weight="bold" fill="#111" stroke="#111" stroke-width="0.22">- AMN107</text>
<text transform="translate(221.60 215.83) scale(1 1.18)" font-size="6.2" text-anchor="middle" font-weight="bold" fill="#111" stroke="#111" stroke-width="0.22">+ AMN107</text>
<text transform="translate(223.20 223.03) scale(1 1.18)" font-size="6.2" text-anchor="middle" font-weight="bold" fill="#111" stroke="#111" stroke-width="0.22">10 µM</text>
<line x1="286.5" y1="103.9" x2="286.5" y2="169.6" stroke="#a4a4a4" stroke-width="0.8"/>
<line x1="286.5" y1="169.6" x2="385.7" y2="169.6" stroke="#a4a4a4" stroke-width="0.8"/>
<line x1="298.5" y1="145.6" x2="298.5" y2="155" stroke="#8c8c8c" stroke-width="0.9"/>
<line x1="297.5" y1="145.6" x2="299.5" y2="145.6" stroke="#666" stroke-width="0.9"/>
<rect x="289.2" y="155" width="19.40" height="14.80" fill="#000"/>
<line x1="323.5" y1="137.2" x2="323.5" y2="144.1" stroke="#8c8c8c" stroke-width="0.9"/>
<line x1="322.5" y1="137.2" x2="324.5" y2="137.2" stroke="#666" stroke-width="0.9"/>
<rect x="314" y="144.1" width="18.60" height="25.70" fill="#000"/>
<line x1="347.5" y1="141.1" x2="347.5" y2="146.1" stroke="#8c8c8c" stroke-width="0.9"/>
<line x1="346.5" y1="141.1" x2="348.5" y2="141.1" stroke="#666" stroke-width="0.9"/>
<rect x="338.5" y="146.1" width="18.90" height="23.70" fill="#000"/>
<line x1="372.5" y1="115.3" x2="372.5" y2="122.2" stroke="#8c8c8c" stroke-width="0.9"/>
<line x1="371.5" y1="115.3" x2="373.5" y2="115.3" stroke="#666" stroke-width="0.9"/>
<rect x="362.8" y="122.2" width="18.80" height="47.60" fill="#000"/>
<line x1="284.9" y1="169.6" x2="286.4" y2="169.6" stroke="#a4a4a4" stroke-width="0.7"/>
<text transform="translate(284.20 171.71) scale(1 0.93)" font-size="6.3" text-anchor="end" font-weight="bold" fill="#111" stroke="#111" stroke-width="0.12">0</text>
<line x1="284.9" y1="147.9" x2="286.4" y2="147.9" stroke="#a4a4a4" stroke-width="0.7"/>
<text transform="translate(284.20 150.01) scale(1 0.93)" font-size="6.3" text-anchor="end" font-weight="bold" fill="#111" stroke="#111" stroke-width="0.12">10</text>
<line x1="284.9" y1="126.19999999999999" x2="286.4" y2="126.19999999999999" stroke="#a4a4a4" stroke-width="0.7"/>
<text transform="translate(284.20 128.31) scale(1 0.93)" font-size="6.3" text-anchor="end" font-weight="bold" fill="#111" stroke="#111" stroke-width="0.12">20</text>
<line x1="284.9" y1="104.5" x2="286.4" y2="104.5" stroke="#a4a4a4" stroke-width="0.7"/>
<text transform="translate(284.20 106.61) scale(1 0.93)" font-size="6.3" text-anchor="end" font-weight="bold" fill="#111" stroke="#111" stroke-width="0.12">30</text>
<text transform="translate(272.33 136.00) rotate(-90) scale(1 1.18)" font-size="6.2" text-anchor="middle" font-weight="bold" fill="#111" stroke="#111" stroke-width="0.22">% apoptotic cells</text>
<text transform="translate(297.86 174.70) rotate(-90) scale(1 1.18)" font-size="6.5" text-anchor="end" font-weight="bold" fill="#111" stroke="#111" stroke-width="0.22">Scramble</text>
<text transform="translate(305.26 174.70) rotate(-90) scale(1 1.18)" font-size="6.5" text-anchor="end" font-weight="bold" fill="#111" stroke="#111" stroke-width="0.22">Control</text>
<text transform="translate(325.76 175.50) rotate(-90) scale(1 1.18)" font-size="6.5" text-anchor="end" font-weight="bold" fill="#111" stroke="#111" stroke-width="0.22">Antisense</text>
<text transform="translate(346.76 176.10) rotate(-90) scale(1 1.18)" font-size="6.5" text-anchor="end" font-weight="bold" fill="#111" stroke="#111" stroke-width="0.22">Scramble</text>
<text transform="translate(354.06 176.10) rotate(-90) scale(1 1.18)" font-size="6.5" text-anchor="end" font-weight="bold" fill="#111" stroke="#111" stroke-width="0.22">Control</text>
<text transform="translate(375.26 176.90) rotate(-90) scale(1 1.18)" font-size="6.5" text-anchor="end" font-weight="bold" fill="#111" stroke="#111" stroke-width="0.22">Antisense</text>
<line x1="289.2" y1="211.0" x2="327.6" y2="211.0" stroke="#aaaaaa" stroke-width="1.0"/>
<line x1="339.7" y1="211.0" x2="377.6" y2="211.0" stroke="#aaaaaa" stroke-width="1.0"/>
<text transform="translate(305.60 220.03) scale(1 1.18)" font-size="6.2" text-anchor="middle" font-weight="bold" fill="#111" stroke="#111" stroke-width="0.22">- STI571</text>
<text transform="translate(358.30 220.03) scale(1 1.18)" font-size="6.2" text-anchor="middle" font-weight="bold" fill="#111" stroke="#111" stroke-width="0.22">+ STI571</text>
<text transform="translate(358.90 226.93) scale(1 1.18)" font-size="6.2" text-anchor="middle" font-weight="bold" fill="#111" stroke="#111" stroke-width="0.22">10 µM</text>
<line x1="419.5" y1="104.8" x2="419.5" y2="169.3" stroke="#a4a4a4" stroke-width="0.8"/>
<line x1="419.5" y1="169.3" x2="515.6" y2="169.3" stroke="#a4a4a4" stroke-width="0.8"/>
<line x1="431.5" y1="137.3" x2="431.5" y2="147.3" stroke="#8c8c8c" stroke-width="0.9"/>
<line x1="430.5" y1="137.3" x2="432.5" y2="137.3" stroke="#666" stroke-width="0.9"/>
<rect x="421.9" y="147.3" width="18.70" height="22.20" fill="#000"/>
<line x1="455.5" y1="127.6" x2="455.5" y2="131.3" stroke="#8c8c8c" stroke-width="0.9"/>
<line x1="454.5" y1="127.6" x2="456.5" y2="127.6" stroke="#666" stroke-width="0.9"/>
<rect x="446" y="131.3" width="18.80" height="38.20" fill="#000"/>
<line x1="479.5" y1="122" x2="479.5" y2="131.1" stroke="#8c8c8c" stroke-width="0.9"/>
<line x1="478.5" y1="122" x2="480.5" y2="122" stroke="#666" stroke-width="0.9"/>
<rect x="470" y="131.1" width="18.80" height="38.40" fill="#000"/>
<line x1="503.5" y1="116.5" x2="503.5" y2="123.1" stroke="#8c8c8c" stroke-width="0.9"/>
<line x1="502.5" y1="116.5" x2="504.5" y2="116.5" stroke="#666" stroke-width="0.9"/>
<rect x="494.4" y="123.1" width="18.90" height="46.40" fill="#000"/>
<line x1="417.7" y1="169.5" x2="419.2" y2="169.5" stroke="#a4a4a4" stroke-width="0.7"/>
<text transform="translate(416.60 171.61) scale(1 0.93)" font-size="6.3" text-anchor="end" font-weight="bold" fill="#111" stroke="#111" stroke-width="0.12">0</text>
<line x1="417.7" y1="137.5" x2="419.2" y2="137.5" stroke="#a4a4a4" stroke-width="0.7"/>
<text transform="translate(416.60 139.61) scale(1 0.93)" font-size="6.3" text-anchor="end" font-weight="bold" fill="#111" stroke="#111" stroke-width="0.12">10</text>
<line x1="417.7" y1="105.5" x2="419.2" y2="105.5" stroke="#a4a4a4" stroke-width="0.7"/>
<text transform="translate(416.60 107.61) scale(1 0.93)" font-size="6.3" text-anchor="end" font-weight="bold" fill="#111" stroke="#111" stroke-width="0.12">20</text>
<text transform="translate(405.93 136.50) rotate(-90) scale(1 1.18)" font-size="6.2" text-anchor="middle" font-weight="bold" fill="#111" stroke="#111" stroke-width="0.22">% apoptotic cells</text>
<text transform="translate(430.66 174.20) rotate(-90) scale(1 1.18)" font-size="6.5" text-anchor="end" font-weight="bold" fill="#111" stroke="#111" stroke-width="0.22">Scramble</text>
<text transform="translate(437.86 174.20) rotate(-90) scale(1 1.18)" font-size="6.5" text-anchor="end" font-weight="bold" fill="#111" stroke="#111" stroke-width="0.22">Control</text>
<text transform="translate(457.86 175.00) rotate(-90) scale(1 1.18)" font-size="6.5" text-anchor="end" font-weight="bold" fill="#111" stroke="#111" stroke-width="0.22">Antisense</text>
<text transform="translate(478.76 175.40) rotate(-90) scale(1 1.18)" font-size="6.5" text-anchor="end" font-weight="bold" fill="#111" stroke="#111" stroke-width="0.22">Scramble</text>
<text transform="translate(486.16 175.40) rotate(-90) scale(1 1.18)" font-size="6.5" text-anchor="end" font-weight="bold" fill="#111" stroke="#111" stroke-width="0.22">Control</text>
<text transform="translate(506.46 176.20) rotate(-90) scale(1 1.18)" font-size="6.5" text-anchor="end" font-weight="bold" fill="#111" stroke="#111" stroke-width="0.22">Antisense</text>
<line x1="421.2" y1="209.7" x2="459.8" y2="209.7" stroke="#aaaaaa" stroke-width="1.0"/>
<line x1="471.9" y1="209.7" x2="509.2" y2="209.7" stroke="#aaaaaa" stroke-width="1.0"/>
<text transform="translate(439.00 219.23) scale(1 1.18)" font-size="6.2" text-anchor="middle" font-weight="bold" fill="#111" stroke="#111" stroke-width="0.22">- 2CdA</text>
<text transform="translate(490.90 219.23) scale(1 1.18)" font-size="6.2" text-anchor="middle" font-weight="bold" fill="#111" stroke="#111" stroke-width="0.22">+ 2CdA</text>
<text transform="translate(492.00 225.63) scale(1 1.18)" font-size="6.2" text-anchor="middle" font-weight="bold" fill="#111" stroke="#111" stroke-width="0.22">500 ng/mL</text>
<line x1="19.5" y1="231.4" x2="19.5" y2="305.5" stroke="#a4a4a4" stroke-width="0.8"/>
<line x1="19.5" y1="305.5" x2="116.9" y2="305.5" stroke="#a4a4a4" stroke-width="0.8"/>
<line x1="18.0" y1="305.5" x2="19.5" y2="305.5" stroke="#a4a4a4" stroke-width="0.7"/>
<text transform="translate(17.20 307.47) scale(1 1.05)" font-size="5.2" text-anchor="end" font-weight="bold" fill="#111" stroke="#111" stroke-width="0.1">0</text>
<line x1="18.0" y1="293.2" x2="19.5" y2="293.2" stroke="#a4a4a4" stroke-width="0.7"/>
<text transform="translate(17.20 295.17) scale(1 1.05)" font-size="5.2" text-anchor="end" font-weight="bold" fill="#111" stroke="#111" stroke-width="0.1">0.2</text>
<line x1="18.0" y1="280.9" x2="19.5" y2="280.9" stroke="#a4a4a4" stroke-width="0.7"/>
<text transform="translate(17.20 282.87) scale(1 1.05)" font-size="5.2" text-anchor="end" font-weight="bold" fill="#111" stroke="#111" stroke-width="0.1">0.4</text>
<line x1="18.0" y1="268.6" x2="19.5" y2="268.6" stroke="#a4a4a4" stroke-width="0.7"/>
<text transform="translate(17.20 270.57) scale(1 1.05)" font-size="5.2" text-anchor="end" font-weight="bold" fill="#111" stroke="#111" stroke-width="0.1">0.6</text>
<line x1="18.0" y1="256.3" x2="19.5" y2="256.3" stroke="#a4a4a4" stroke-width="0.7"/>
<text transform="translate(17.20 258.27) scale(1 1.05)" font-size="5.2" text-anchor="end" font-weight="bold" fill="#111" stroke="#111" stroke-width="0.1">0.8</text>
<line x1="18.0" y1="244.0" x2="19.5" y2="244.0" stroke="#a4a4a4" stroke-width="0.7"/>
<text transform="translate(17.20 245.97) scale(1 1.05)" font-size="5.2" text-anchor="end" font-weight="bold" fill="#111" stroke="#111" stroke-width="0.1">1.0</text>
<line x1="18.0" y1="231.7" x2="19.5" y2="231.7" stroke="#a4a4a4" stroke-width="0.7"/>
<text transform="translate(17.20 233.67) scale(1 1.05)" font-size="5.2" text-anchor="end" font-weight="bold" fill="#111" stroke="#111" stroke-width="0.1">1.2</text>
<line x1="19.7" y1="305.6" x2="19.7" y2="307.1" stroke="#a4a4a4" stroke-width="0.7"/>
<text transform="translate(19.70 312.17) scale(1 1.05)" font-size="5.2" text-anchor="middle" font-weight="bold" fill="#111" stroke="#111" stroke-width="0.1">0</text>
<line x1="39.1" y1="305.6" x2="39.1" y2="307.1" stroke="#a4a4a4" stroke-width="0.7"/>
<text transform="translate(39.10 312.17) scale(1 1.05)" font-size="5.2" text-anchor="middle" font-weight="bold" fill="#111" stroke="#111" stroke-width="0.1">0.2</text>
<line x1="58.5" y1="305.6" x2="58.5" y2="307.1" stroke="#a4a4a4" stroke-width="0.7"/>
<text transform="translate(58.50 312.17) scale(1 1.05)" font-size="5.2" text-anchor="middle" font-weight="bold" fill="#111" stroke="#111" stroke-width="0.1">0.4</text>
<line x1="77.89999999999999" y1="305.6" x2="77.89999999999999" y2="307.1" stroke="#a4a4a4" stroke-width="0.7"/>
<text transform="translate(77.90 312.17) scale(1 1.05)" font-size="5.2" text-anchor="middle" font-weight="bold" fill="#111" stroke="#111" stroke-width="0.1">0.6</text>
<line x1="97.30000000000001" y1="305.6" x2="97.30000000000001" y2="307.1" stroke="#a4a4a4" stroke-width="0.7"/>
<text transform="translate(97.30 312.17) scale(1 1.05)" font-size="5.2" text-anchor="middle" font-weight="bold" fill="#111" stroke="#111" stroke-width="0.1">0.8</text>
<line x1="116.7" y1="305.6" x2="116.7" y2="307.1" stroke="#a4a4a4" stroke-width="0.7"/>
<text transform="translate(116.70 312.17) scale(1 1.05)" font-size="5.2" text-anchor="middle" font-weight="bold" fill="#111" stroke="#111" stroke-width="0.1">1.0</text>
<line x1="19.5" y1="243.5" x2="116.9" y2="243.5" stroke="#a8a8a8" stroke-width="0.9"/>
<circle cx="53.3" cy="297.6" r="1.35" fill="#000"/>
<circle cx="57.3" cy="300" r="1.35" fill="#000"/>
<circle cx="66.1" cy="292.1" r="1.35" fill="#000"/>
<circle cx="69.8" cy="295.8" r="1.35" fill="#000"/>
<circle cx="80.5" cy="297.3" r="1.35" fill="#000"/>
<circle cx="85.4" cy="300.4" r="1.35" fill="#000"/>
<text transform="translate(53.20 239.01) scale(1 1.18)" font-size="5.2" text-anchor="start" font-weight="bold" fill="#111" stroke="#111" stroke-width="0.12">Antagonism</text>
<text transform="translate(53.60 253.21) scale(1 1.18)" font-size="5.2" text-anchor="start" font-weight="bold" fill="#111" stroke="#111" stroke-width="0.12">Synergism</text>
<text transform="translate(5.91 269.00) rotate(-90) scale(1 1.18)" font-size="5.2" text-anchor="middle" font-weight="bold" fill="#111" stroke="#111" stroke-width="0.12">Combination Index</text>
<text transform="translate(68.00 318.21) scale(1 1.18)" font-size="5.2" text-anchor="middle" font-weight="bold" fill="#111" stroke="#111" stroke-width="0.12">Fractional Effect</text>
<line x1="152.5" y1="243.3" x2="152.5" y2="306.5" stroke="#a4a4a4" stroke-width="0.8"/>
<line x1="152.5" y1="306.5" x2="248.5" y2="306.5" stroke="#a4a4a4" stroke-width="0.8"/>
<line x1="150.8" y1="306.0" x2="152.3" y2="306.0" stroke="#a4a4a4" stroke-width="0.7"/>
<text transform="translate(149.80 307.97) scale(1 1.05)" font-size="5.2" text-anchor="end" font-weight="bold" fill="#111" stroke="#111" stroke-width="0.1">0</text>
<line x1="150.8" y1="290.43" x2="152.3" y2="290.43" stroke="#a4a4a4" stroke-width="0.7"/>
<text transform="translate(149.80 292.40) scale(1 1.05)" font-size="5.2" text-anchor="end" font-weight="bold" fill="#111" stroke="#111" stroke-width="0.1">0.3</text>
<line x1="150.8" y1="274.86" x2="152.3" y2="274.86" stroke="#a4a4a4" stroke-width="0.7"/>
<text transform="translate(149.80 276.83) scale(1 1.05)" font-size="5.2" text-anchor="end" font-weight="bold" fill="#111" stroke="#111" stroke-width="0.1">0.6</text>
<line x1="150.8" y1="259.29" x2="152.3" y2="259.29" stroke="#a4a4a4" stroke-width="0.7"/>
<text transform="translate(149.80 261.26) scale(1 1.05)" font-size="5.2" text-anchor="end" font-weight="bold" fill="#111" stroke="#111" stroke-width="0.1">0.9</text>
<line x1="150.8" y1="243.72" x2="152.3" y2="243.72" stroke="#a4a4a4" stroke-width="0.7"/>
<text transform="translate(149.80 245.69) scale(1 1.05)" font-size="5.2" text-anchor="end" font-weight="bold" fill="#111" stroke="#111" stroke-width="0.1">1.2</text>
<line x1="152.4" y1="306" x2="152.4" y2="307.5" stroke="#a4a4a4" stroke-width="0.7"/>
<text transform="translate(152.40 313.07) scale(1 1.05)" font-size="5.2" text-anchor="middle" font-weight="bold" fill="#111" stroke="#111" stroke-width="0.1">0</text>
<line x1="171.56" y1="306" x2="171.56" y2="307.5" stroke="#a4a4a4" stroke-width="0.7"/>
<text transform="translate(171.56 313.07) scale(1 1.05)" font-size="5.2" text-anchor="middle" font-weight="bold" fill="#111" stroke="#111" stroke-width="0.1">0.2</text>
<line x1="190.72" y1="306" x2="190.72" y2="307.5" stroke="#a4a4a4" stroke-width="0.7"/>
<text transform="translate(190.72 313.07) scale(1 1.05)" font-size="5.2" text-anchor="middle" font-weight="bold" fill="#111" stroke="#111" stroke-width="0.1">0.4</text>
<line x1="209.88" y1="306" x2="209.88" y2="307.5" stroke="#a4a4a4" stroke-width="0.7"/>
<text transform="translate(209.88 313.07) scale(1 1.05)" font-size="5.2" text-anchor="middle" font-weight="bold" fill="#111" stroke="#111" stroke-width="0.1">0.6</text>
<line x1="229.04000000000002" y1="306" x2="229.04000000000002" y2="307.5" stroke="#a4a4a4" stroke-width="0.7"/>
<text transform="translate(229.04 313.07) scale(1 1.05)" font-size="5.2" text-anchor="middle" font-weight="bold" fill="#111" stroke="#111" stroke-width="0.1">0.8</text>
<line x1="248.2" y1="306" x2="248.2" y2="307.5" stroke="#a4a4a4" stroke-width="0.7"/>
<text transform="translate(248.20 313.07) scale(1 1.05)" font-size="5.2" text-anchor="middle" font-weight="bold" fill="#111" stroke="#111" stroke-width="0.1">1.0</text>
<line x1="152.3" y1="254.5" x2="248.5" y2="254.5" stroke="#a8a8a8" stroke-width="0.9"/>
<circle cx="171.4" cy="249.2" r="1.35" fill="#000"/>
<circle cx="170.5" cy="263.9" r="1.35" fill="#000"/>
<circle cx="173.5" cy="274.8" r="1.35" fill="#000"/>
<circle cx="176.3" cy="278.5" r="1.35" fill="#000"/>
<circle cx="177.5" cy="289" r="1.35" fill="#000"/>
<circle cx="181.2" cy="292.7" r="1.35" fill="#000"/>
<text transform="translate(187.90 249.31) scale(1 1.18)" font-size="5.2" text-anchor="start" font-weight="bold" fill="#111" stroke="#111" stroke-width="0.12">Antagonism</text>
<text transform="translate(187.90 264.71) scale(1 1.18)" font-size="5.2" text-anchor="start" font-weight="bold" fill="#111" stroke="#111" stroke-width="0.12">Synergism</text>
<text transform="translate(139.21 275.00) rotate(-90) scale(1 1.18)" font-size="5.2" text-anchor="middle" font-weight="bold" fill="#111" stroke="#111" stroke-width="0.12">Combination Index</text>
<text transform="translate(201.00 320.01) scale(1 1.18)" font-size="5.2" text-anchor="middle" font-weight="bold" fill="#111" stroke="#111" stroke-width="0.12">Fractional Effect</text>
<line x1="284.5" y1="244.2" x2="284.5" y2="305.5" stroke="#a4a4a4" stroke-width="0.8"/>
<line x1="284.5" y1="305.5" x2="380.5" y2="305.5" stroke="#a4a4a4" stroke-width="0.8"/>
<line x1="282.6" y1="305.8" x2="284.1" y2="305.8" stroke="#a4a4a4" stroke-width="0.7"/>
<text transform="translate(281.60 307.77) scale(1 1.05)" font-size="5.2" text-anchor="end" font-weight="bold" fill="#111" stroke="#111" stroke-width="0.1">0</text>
<line x1="282.6" y1="285.40000000000003" x2="284.1" y2="285.40000000000003" stroke="#a4a4a4" stroke-width="0.7"/>
<text transform="translate(281.60 287.37) scale(1 1.05)" font-size="5.2" text-anchor="end" font-weight="bold" fill="#111" stroke="#111" stroke-width="0.1">0.5</text>
<line x1="282.6" y1="265.0" x2="284.1" y2="265.0" stroke="#a4a4a4" stroke-width="0.7"/>
<text transform="translate(281.60 266.97) scale(1 1.05)" font-size="5.2" text-anchor="end" font-weight="bold" fill="#111" stroke="#111" stroke-width="0.1">1.0</text>
<line x1="282.6" y1="244.60000000000002" x2="284.1" y2="244.60000000000002" stroke="#a4a4a4" stroke-width="0.7"/>
<text transform="translate(281.60 246.57) scale(1 1.05)" font-size="5.2" text-anchor="end" font-weight="bold" fill="#111" stroke="#111" stroke-width="0.1">1.5</text>
<line x1="284.3" y1="305.8" x2="284.3" y2="307.3" stroke="#a4a4a4" stroke-width="0.7"/>
<text transform="translate(284.30 311.77) scale(1 1.05)" font-size="5.2" text-anchor="middle" font-weight="bold" fill="#111" stroke="#111" stroke-width="0.1">0</text>
<line x1="303.44" y1="305.8" x2="303.44" y2="307.3" stroke="#a4a4a4" stroke-width="0.7"/>
<text transform="translate(303.44 311.77) scale(1 1.05)" font-size="5.2" text-anchor="middle" font-weight="bold" fill="#111" stroke="#111" stroke-width="0.1">0.2</text>
<line x1="322.58000000000004" y1="305.8" x2="322.58000000000004" y2="307.3" stroke="#a4a4a4" stroke-width="0.7"/>
<text transform="translate(322.58 311.77) scale(1 1.05)" font-size="5.2" text-anchor="middle" font-weight="bold" fill="#111" stroke="#111" stroke-width="0.1">0.4</text>
<line x1="341.72" y1="305.8" x2="341.72" y2="307.3" stroke="#a4a4a4" stroke-width="0.7"/>
<text transform="translate(341.72 311.77) scale(1 1.05)" font-size="5.2" text-anchor="middle" font-weight="bold" fill="#111" stroke="#111" stroke-width="0.1">0.6</text>
<line x1="360.86" y1="305.8" x2="360.86" y2="307.3" stroke="#a4a4a4" stroke-width="0.7"/>
<text transform="translate(360.86 311.77) scale(1 1.05)" font-size="5.2" text-anchor="middle" font-weight="bold" fill="#111" stroke="#111" stroke-width="0.1">0.8</text>
<line x1="380.0" y1="305.8" x2="380.0" y2="307.3" stroke="#a4a4a4" stroke-width="0.7"/>
<text transform="translate(380.00 311.77) scale(1 1.05)" font-size="5.2" text-anchor="middle" font-weight="bold" fill="#111" stroke="#111" stroke-width="0.1">1.0</text>
<line x1="284.1" y1="265.5" x2="380.5" y2="265.5" stroke="#a8a8a8" stroke-width="0.9"/>
<circle cx="295.9" cy="257.5" r="1.35" fill="#000"/>
<circle cx="295" cy="266.7" r="1.35" fill="#000"/>
<circle cx="296.8" cy="265.4" r="1.35" fill="#000"/>
<circle cx="298.7" cy="263.9" r="1.35" fill="#000"/>
<circle cx="304.6" cy="274.2" r="1.35" fill="#000"/>
<circle cx="294" cy="278.3" r="1.35" fill="#000"/>
<text transform="translate(321.30 258.01) scale(1 1.18)" font-size="5.2" text-anchor="start" font-weight="bold" fill="#111" stroke="#111" stroke-width="0.12">Antagonism</text>
<text transform="translate(321.30 276.51) scale(1 1.18)" font-size="5.2" text-anchor="start" font-weight="bold" fill="#111" stroke="#111" stroke-width="0.12">Synergism</text>
<text transform="translate(270.51 275.00) rotate(-90) scale(1 1.18)" font-size="5.2" text-anchor="middle" font-weight="bold" fill="#111" stroke="#111" stroke-width="0.12">Combination Index</text>
<text transform="translate(334.50 319.21) scale(1 1.18)" font-size="5.2" text-anchor="middle" font-weight="bold" fill="#111" stroke="#111" stroke-width="0.12">Fractional Effect</text>
<line x1="418.5" y1="242.4" x2="418.5" y2="305.5" stroke="#a4a4a4" stroke-width="0.8"/>
<line x1="418.5" y1="305.5" x2="515.5" y2="305.5" stroke="#a4a4a4" stroke-width="0.8"/>
<line x1="417.2" y1="305.4" x2="418.7" y2="305.4" stroke="#a4a4a4" stroke-width="0.7"/>
<text transform="translate(416.20 307.37) scale(1 1.05)" font-size="5.2" text-anchor="end" font-weight="bold" fill="#111" stroke="#111" stroke-width="0.1">0</text>
<line x1="417.2" y1="293.07" x2="418.7" y2="293.07" stroke="#a4a4a4" stroke-width="0.7"/>
<text transform="translate(416.20 295.04) scale(1 1.05)" font-size="5.2" text-anchor="end" font-weight="bold" fill="#111" stroke="#111" stroke-width="0.1">10</text>
<line x1="417.2" y1="280.73999999999995" x2="418.7" y2="280.73999999999995" stroke="#a4a4a4" stroke-width="0.7"/>
<text transform="translate(416.20 282.71) scale(1 1.05)" font-size="5.2" text-anchor="end" font-weight="bold" fill="#111" stroke="#111" stroke-width="0.1">20</text>
<line x1="417.2" y1="268.40999999999997" x2="418.7" y2="268.40999999999997" stroke="#a4a4a4" stroke-width="0.7"/>
<text transform="translate(416.20 270.38) scale(1 1.05)" font-size="5.2" text-anchor="end" font-weight="bold" fill="#111" stroke="#111" stroke-width="0.1">30</text>
<line x1="417.2" y1="256.08" x2="418.7" y2="256.08" stroke="#a4a4a4" stroke-width="0.7"/>
<text transform="translate(416.20 258.05) scale(1 1.05)" font-size="5.2" text-anchor="end" font-weight="bold" fill="#111" stroke="#111" stroke-width="0.1">40</text>
<line x1="417.2" y1="243.74999999999997" x2="418.7" y2="243.74999999999997" stroke="#a4a4a4" stroke-width="0.7"/>
<text transform="translate(416.20 245.72) scale(1 1.05)" font-size="5.2" text-anchor="end" font-weight="bold" fill="#111" stroke="#111" stroke-width="0.1">50</text>
<line x1="418.8" y1="305.2" x2="418.8" y2="306.7" stroke="#a4a4a4" stroke-width="0.7"/>
<text transform="translate(418.80 312.27) scale(1 1.05)" font-size="5.2" text-anchor="middle" font-weight="bold" fill="#111" stroke="#111" stroke-width="0.1">0</text>
<line x1="438.04" y1="305.2" x2="438.04" y2="306.7" stroke="#a4a4a4" stroke-width="0.7"/>
<text transform="translate(438.04 312.27) scale(1 1.05)" font-size="5.2" text-anchor="middle" font-weight="bold" fill="#111" stroke="#111" stroke-width="0.1">0.2</text>
<line x1="457.28000000000003" y1="305.2" x2="457.28000000000003" y2="306.7" stroke="#a4a4a4" stroke-width="0.7"/>
<text transform="translate(457.28 312.27) scale(1 1.05)" font-size="5.2" text-anchor="middle" font-weight="bold" fill="#111" stroke="#111" stroke-width="0.1">0.4</text>
<line x1="476.52" y1="305.2" x2="476.52" y2="306.7" stroke="#a4a4a4" stroke-width="0.7"/>
<text transform="translate(476.52 312.27) scale(1 1.05)" font-size="5.2" text-anchor="middle" font-weight="bold" fill="#111" stroke="#111" stroke-width="0.1">0.6</text>
<line x1="495.76" y1="305.2" x2="495.76" y2="306.7" stroke="#a4a4a4" stroke-width="0.7"/>
<text transform="translate(495.76 312.27) scale(1 1.05)" font-size="5.2" text-anchor="middle" font-weight="bold" fill="#111" stroke="#111" stroke-width="0.1">0.8</text>
<line x1="515.0" y1="305.2" x2="515.0" y2="306.7" stroke="#a4a4a4" stroke-width="0.7"/>
<text transform="translate(515.00 312.27) scale(1 1.05)" font-size="5.2" text-anchor="middle" font-weight="bold" fill="#111" stroke="#111" stroke-width="0.1">1.0</text>
<circle cx="424.6" cy="248.8" r="1.35" fill="#000"/>
<circle cx="423.6" cy="277" r="1.35" fill="#000"/>
<circle cx="425.8" cy="295" r="1.35" fill="#000"/>
<circle cx="425.8" cy="300.4" r="1.35" fill="#000"/>
<circle cx="428.5" cy="304" r="1.35" fill="#000"/>
<circle cx="429.3" cy="302.6" r="1.35" fill="#000"/>
<text transform="translate(436.80 299.01) scale(1 1.18)" font-size="5.2" text-anchor="start" font-weight="bold" fill="#111" stroke="#111" stroke-width="0.12">Antagonism</text>
<text transform="translate(404.71 274.00) rotate(-90) scale(1 1.18)" font-size="5.2" text-anchor="middle" font-weight="bold" fill="#111" stroke="#111" stroke-width="0.12">Combination Index</text>
<text transform="translate(470.30 322.21) scale(1 1.18)" font-size="5.2" text-anchor="middle" font-weight="bold" fill="#111" stroke="#111" stroke-width="0.12">Fractional Effect</text>
</g>
</svg>
</body></html>
